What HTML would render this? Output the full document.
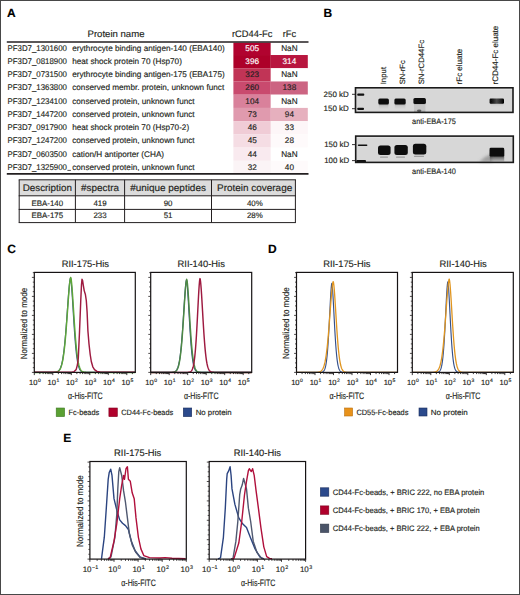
<!DOCTYPE html>
<html><head><meta charset="utf-8"><style>
html,body{margin:0;padding:0;background:#fff;}
body{width:520px;height:595px;overflow:hidden;position:relative;}
svg{position:absolute;left:0;top:0;display:block;font-family:"Liberation Sans", sans-serif;}
text{stroke:currentColor;stroke-width:0.15px;text-rendering:geometricPrecision;}
.frame{position:absolute;left:0;top:0;width:518px;height:593px;border:1px solid #484848;}
</style></head><body>
<svg width="520" height="595" viewBox="0 0 520 595">
<defs>
<linearGradient id="sm1" x1="0" y1="0" x2="0" y2="1"><stop offset="0" stop-color="#555" stop-opacity="0.7"/><stop offset="0.5" stop-color="#999" stop-opacity="0.35"/><stop offset="1" stop-color="#bbb" stop-opacity="0"/></linearGradient>
<linearGradient id="sm2" x1="0" y1="0" x2="0" y2="1"><stop offset="0" stop-color="#555" stop-opacity="0.6"/><stop offset="0.35" stop-color="#999" stop-opacity="0.3"/><stop offset="0.8" stop-color="#999" stop-opacity="0.3"/><stop offset="1" stop-color="#777" stop-opacity="0.5"/></linearGradient>
<linearGradient id="sm3" x1="0" y1="0" x2="0" y2="1"><stop offset="0" stop-color="#111" stop-opacity="1"/><stop offset="0.55" stop-color="#333" stop-opacity="0.8"/><stop offset="1" stop-color="#888" stop-opacity="0.4"/></linearGradient>
<filter id="bl3" x="-50%" y="-50%" width="200%" height="200%"><feGaussianBlur stdDeviation="1.6"/></filter>
<linearGradient id="b5g" x1="0" y1="0" x2="1" y2="0"><stop offset="0" stop-color="#000"/><stop offset="0.18" stop-color="#181818"/><stop offset="0.5" stop-color="#4a4a4a"/><stop offset="0.8" stop-color="#202020"/><stop offset="1" stop-color="#000"/></linearGradient>
<filter id="bl1" x="-50%" y="-100%" width="200%" height="300%"><feGaussianBlur stdDeviation="0.6 0.55"/></filter>
<filter id="bl2" x="-50%" y="-100%" width="200%" height="300%"><feGaussianBlur stdDeviation="0.6 0.6"/></filter>
</defs>
<rect width="520" height="595" fill="#fff"/>
<text x="6.9" y="16.7" font-size="12" font-weight="bold" fill="#000" color="#000">A</text>
<text x="323.6" y="16.9" font-size="12" font-weight="bold" fill="#000" color="#000">B</text>
<text x="7.2" y="253.3" font-size="12" font-weight="bold" fill="#000" color="#000">C</text>
<text x="268.0" y="253.0" font-size="12" font-weight="bold" fill="#000" color="#000">D</text>
<text x="63.2" y="441.5" font-size="12" font-weight="bold" fill="#000" color="#000">E</text>
<text x="116" y="37.2" font-size="9.4" text-anchor="middle" textLength="57" lengthAdjust="spacingAndGlyphs" fill="#231f20" color="#231f20">Protein name</text>
<text x="252.2" y="37.3" font-size="9.4" text-anchor="middle" textLength="40.4" lengthAdjust="spacingAndGlyphs" fill="#231f20" color="#231f20">rCD44-Fc</text>
<text x="289.4" y="37.3" font-size="9.4" text-anchor="middle" textLength="13.4" lengthAdjust="spacingAndGlyphs" fill="#231f20" color="#231f20">rFc</text>
<rect x="233.4" y="42.6" width="37.4" height="12.469999999999995" fill="#b1032f"/>
<rect x="270.8" y="42.6" width="37.0" height="12.469999999999995" fill="#ffffff"/>
<rect x="233.4" y="55.019999999999996" width="37.4" height="13.27" fill="#ad0029"/>
<rect x="270.8" y="55.019999999999996" width="37.0" height="13.27" fill="#b8163f"/>
<rect x="233.4" y="68.24" width="37.4" height="13.270000000000014" fill="#c13456"/>
<rect x="270.8" y="68.24" width="37.0" height="13.270000000000014" fill="#ffffff"/>
<rect x="233.4" y="81.46000000000001" width="37.4" height="13.27" fill="#c94a6e"/>
<rect x="270.8" y="81.46000000000001" width="37.0" height="13.27" fill="#cc6482"/>
<rect x="233.4" y="94.68" width="37.4" height="13.27" fill="#d9819b"/>
<rect x="270.8" y="94.68" width="37.0" height="13.27" fill="#ffffff"/>
<rect x="233.4" y="107.9" width="37.4" height="13.27" fill="#e09aae"/>
<rect x="270.8" y="107.9" width="37.0" height="13.27" fill="#e6b0be"/>
<rect x="233.4" y="121.12" width="37.4" height="13.27" fill="#f0ccd6"/>
<rect x="270.8" y="121.12" width="37.0" height="13.27" fill="#fdf6f8"/>
<rect x="233.4" y="134.34" width="37.4" height="13.27" fill="#f5dde4"/>
<rect x="270.8" y="134.34" width="37.0" height="13.27" fill="#fefafb"/>
<rect x="233.4" y="147.56" width="37.4" height="13.27" fill="#f9eaef"/>
<rect x="270.8" y="147.56" width="37.0" height="13.27" fill="#ffffff"/>
<rect x="233.4" y="160.78" width="37.4" height="12.869999999999994" fill="#fbf4f6"/>
<rect x="270.8" y="160.78" width="37.0" height="12.869999999999994" fill="#fefafb"/>
<text x="7.5" y="50.8" font-size="8.3" textLength="59.5" lengthAdjust="spacingAndGlyphs" fill="#231f20" color="#231f20">PF3D7_1301600</text>
<text x="72.2" y="50.8" font-size="8.2" fill="#231f20" color="#231f20">erythrocyte binding antigen-140 (EBA140)</text>
<text x="252.2" y="50.8" font-size="8.2" text-anchor="middle" fill="#ffffff" color="#ffffff">505</text>
<text x="289.4" y="50.8" font-size="8.2" text-anchor="middle" fill="#231f20" color="#231f20">NaN</text>
<text x="7.5" y="64.02" font-size="8.3" textLength="59.5" lengthAdjust="spacingAndGlyphs" fill="#231f20" color="#231f20">PF3D7_0818900</text>
<text x="72.2" y="64.02" font-size="8.2" fill="#231f20" color="#231f20">heat shock protein 70 (Hsp70)</text>
<text x="252.2" y="64.02" font-size="8.2" text-anchor="middle" fill="#ffffff" color="#ffffff">396</text>
<text x="289.4" y="64.02" font-size="8.2" text-anchor="middle" fill="#ffffff" color="#ffffff">314</text>
<text x="7.5" y="77.24" font-size="8.3" textLength="59.5" lengthAdjust="spacingAndGlyphs" fill="#231f20" color="#231f20">PF3D7_0731500</text>
<text x="72.2" y="77.24" font-size="8.2" fill="#231f20" color="#231f20">erythrocyte binding antigen-175 (EBA175)</text>
<text x="252.2" y="77.24" font-size="8.2" text-anchor="middle" fill="#231f20" color="#231f20">323</text>
<text x="289.4" y="77.24" font-size="8.2" text-anchor="middle" fill="#231f20" color="#231f20">NaN</text>
<text x="7.5" y="90.46000000000001" font-size="8.3" textLength="59.5" lengthAdjust="spacingAndGlyphs" fill="#231f20" color="#231f20">PF3D7_1363800</text>
<text x="72.2" y="90.46000000000001" font-size="8.2" fill="#231f20" color="#231f20">conserved membr. protein, unknown funct</text>
<text x="252.2" y="90.46000000000001" font-size="8.2" text-anchor="middle" fill="#231f20" color="#231f20">260</text>
<text x="289.4" y="90.46000000000001" font-size="8.2" text-anchor="middle" fill="#231f20" color="#231f20">138</text>
<text x="7.5" y="103.68" font-size="8.3" textLength="59.5" lengthAdjust="spacingAndGlyphs" fill="#231f20" color="#231f20">PF3D7_1234100</text>
<text x="72.2" y="103.68" font-size="8.2" fill="#231f20" color="#231f20">conserved protein, unknown funct</text>
<text x="252.2" y="103.68" font-size="8.2" text-anchor="middle" fill="#231f20" color="#231f20">104</text>
<text x="289.4" y="103.68" font-size="8.2" text-anchor="middle" fill="#231f20" color="#231f20">NaN</text>
<text x="7.5" y="116.9" font-size="8.3" textLength="59.5" lengthAdjust="spacingAndGlyphs" fill="#231f20" color="#231f20">PF3D7_1447200</text>
<text x="72.2" y="116.9" font-size="8.2" fill="#231f20" color="#231f20">conserved protein, unknown funct</text>
<text x="252.2" y="116.9" font-size="8.2" text-anchor="middle" fill="#231f20" color="#231f20">73</text>
<text x="289.4" y="116.9" font-size="8.2" text-anchor="middle" fill="#231f20" color="#231f20">94</text>
<text x="7.5" y="130.12" font-size="8.3" textLength="59.5" lengthAdjust="spacingAndGlyphs" fill="#231f20" color="#231f20">PF3D7_0917900</text>
<text x="72.2" y="130.12" font-size="8.2" fill="#231f20" color="#231f20">heat shock protein 70 (Hsp70-2)</text>
<text x="252.2" y="130.12" font-size="8.2" text-anchor="middle" fill="#231f20" color="#231f20">46</text>
<text x="289.4" y="130.12" font-size="8.2" text-anchor="middle" fill="#231f20" color="#231f20">33</text>
<text x="7.5" y="143.34" font-size="8.3" textLength="59.5" lengthAdjust="spacingAndGlyphs" fill="#231f20" color="#231f20">PF3D7_1247200</text>
<text x="72.2" y="143.34" font-size="8.2" fill="#231f20" color="#231f20">conserved protein, unknown funct</text>
<text x="252.2" y="143.34" font-size="8.2" text-anchor="middle" fill="#231f20" color="#231f20">45</text>
<text x="289.4" y="143.34" font-size="8.2" text-anchor="middle" fill="#231f20" color="#231f20">28</text>
<text x="7.5" y="156.56" font-size="8.3" textLength="59.5" lengthAdjust="spacingAndGlyphs" fill="#231f20" color="#231f20">PF3D7_0603500</text>
<text x="72.2" y="156.56" font-size="8.2" fill="#231f20" color="#231f20">cation/H antiporter (CHA)</text>
<text x="252.2" y="156.56" font-size="8.2" text-anchor="middle" fill="#231f20" color="#231f20">44</text>
<text x="289.4" y="156.56" font-size="8.2" text-anchor="middle" fill="#231f20" color="#231f20">NaN</text>
<text x="7.5" y="169.78" font-size="8.3" textLength="59.5" lengthAdjust="spacingAndGlyphs" fill="#231f20" color="#231f20">PF3D7_1325900</text>
<text x="72.2" y="169.78" font-size="8.2" fill="#231f20" color="#231f20">conserved protein, unknown funct</text>
<text x="252.2" y="169.78" font-size="8.2" text-anchor="middle" fill="#231f20" color="#231f20">32</text>
<text x="289.4" y="169.78" font-size="8.2" text-anchor="middle" fill="#231f20" color="#231f20">40</text>
<line x1="6.8" y1="42.0" x2="308.5" y2="42.0" stroke="#231f20" stroke-width="1.6"/>
<line x1="6.8" y1="173.9" x2="308.5" y2="173.9" stroke="#231f20" stroke-width="1.6"/>
<rect x="19.2" y="179.8" width="276.2" height="16.0" fill="#dcdcdc"/>
<line x1="19.2" y1="179.8" x2="19.2" y2="222.6" stroke="#231f20" stroke-width="1"/>
<line x1="75.4" y1="179.8" x2="75.4" y2="222.6" stroke="#231f20" stroke-width="1"/>
<line x1="124.6" y1="179.8" x2="124.6" y2="222.6" stroke="#231f20" stroke-width="1"/>
<line x1="211.5" y1="179.8" x2="211.5" y2="222.6" stroke="#231f20" stroke-width="1"/>
<line x1="295.4" y1="179.8" x2="295.4" y2="222.6" stroke="#231f20" stroke-width="1"/>
<line x1="18.7" y1="179.8" x2="295.9" y2="179.8" stroke="#231f20" stroke-width="1"/>
<line x1="18.7" y1="195.8" x2="295.9" y2="195.8" stroke="#231f20" stroke-width="1"/>
<line x1="18.7" y1="209.4" x2="295.9" y2="209.4" stroke="#231f20" stroke-width="1"/>
<line x1="18.7" y1="222.6" x2="295.9" y2="222.6" stroke="#231f20" stroke-width="1"/>
<text x="47.300000000000004" y="191.2" font-size="9.6" text-anchor="middle" textLength="49.2" lengthAdjust="spacingAndGlyphs" fill="#231f20" color="#231f20">Description</text>
<text x="100.0" y="191.2" font-size="9.6" text-anchor="middle" textLength="37.9" lengthAdjust="spacingAndGlyphs" fill="#231f20" color="#231f20">#spectra</text>
<text x="168.05" y="191.2" font-size="9.6" text-anchor="middle" textLength="75.7" lengthAdjust="spacingAndGlyphs" fill="#231f20" color="#231f20">#unique peptides</text>
<text x="254.64999999999998" y="191.2" font-size="9.6" text-anchor="middle" textLength="75.1" lengthAdjust="spacingAndGlyphs" fill="#231f20" color="#231f20">Protein coverage</text>
<text x="47.300000000000004" y="205.6" font-size="7.9" text-anchor="middle" fill="#231f20" color="#231f20">EBA-140</text>
<text x="100.0" y="205.6" font-size="7.9" text-anchor="middle" fill="#231f20" color="#231f20">419</text>
<text x="168.05" y="205.6" font-size="7.9" text-anchor="middle" fill="#231f20" color="#231f20">90</text>
<text x="254.85" y="205.6" font-size="7.9" text-anchor="middle" fill="#231f20" color="#231f20">40%</text>
<text x="47.300000000000004" y="218.0" font-size="7.9" text-anchor="middle" fill="#231f20" color="#231f20">EBA-175</text>
<text x="100.0" y="218.0" font-size="7.9" text-anchor="middle" fill="#231f20" color="#231f20">233</text>
<text x="168.05" y="218.0" font-size="7.9" text-anchor="middle" fill="#231f20" color="#231f20">51</text>
<text x="254.85" y="218.0" font-size="7.9" text-anchor="middle" fill="#231f20" color="#231f20">28%</text>
<line x1="67.4" y1="170.4" x2="70.9" y2="170.4" stroke="#231f20" stroke-width="0.8"/>
<text x="386.0" y="84.3" font-size="7.8" transform="rotate(-90 386.0 84.3)" fill="#231f20" color="#231f20">Input</text>
<text x="405.0" y="84.3" font-size="7.6" transform="rotate(-90 405.0 84.3)" fill="#231f20" color="#231f20">SN-rFc</text>
<text x="424.2" y="84.3" font-size="7.75" transform="rotate(-90 424.2 84.3)" fill="#231f20" color="#231f20">SN-rCD44Fc</text>
<text x="462.4" y="84.4" font-size="8.0" transform="rotate(-90 462.4 84.4)" fill="#231f20" color="#231f20">rFc eluate</text>
<text x="498.3" y="84.4" font-size="8.0" transform="rotate(-90 498.3 84.4)" fill="#231f20" color="#231f20">rCD44-Fc eluate</text>
<text x="348.8" y="97.3" font-size="7.8" text-anchor="end" textLength="25.2" lengthAdjust="spacingAndGlyphs" fill="#231f20" color="#231f20">250 kD</text>
<text x="348.8" y="111.1" font-size="7.8" text-anchor="end" textLength="25.2" lengthAdjust="spacingAndGlyphs" fill="#231f20" color="#231f20">150 kD</text>
<text x="349.2" y="146.8" font-size="7.8" text-anchor="end" textLength="25.0" lengthAdjust="spacingAndGlyphs" fill="#231f20" color="#231f20">150 kD</text>
<text x="349.2" y="162.5" font-size="7.8" text-anchor="end" textLength="25.0" lengthAdjust="spacingAndGlyphs" fill="#231f20" color="#231f20">100 kD</text>
<text x="412.1" y="123.8" font-size="8.0" textLength="43.8" lengthAdjust="spacingAndGlyphs" fill="#231f20" color="#231f20">anti-EBA-175</text>
<text x="412.1" y="174.1" font-size="8.0" textLength="43.8" lengthAdjust="spacingAndGlyphs" fill="#231f20" color="#231f20">anti-EBA-140</text>
<rect x="355.5" y="87.8" width="157.5" height="24.60000000000001" fill="#d7d7d7"/>
<rect x="355.5" y="87.8" width="157.5" height="2.0" fill="#e0e0e0"/>
<g filter="url(#bl1)">
<rect x="378.8" y="102" width="9.6" height="7.5" fill="url(#sm1)"/>
<rect x="394.8" y="102" width="10.6" height="7.5" fill="url(#sm1)"/>
<rect x="414.0" y="102" width="11.4" height="9.8" fill="url(#sm2)"/>
<ellipse cx="419.2" cy="110.8" rx="2.2" ry="1.3" fill="#333" opacity="0.7"/>
<rect x="490.5" y="102" width="13" height="5" fill="url(#sm1)" opacity="0.6"/>
<rect x="378.3" y="98.5" width="10.60" height="6.00" rx="1.5" fill="#111" opacity="1"/>
<rect x="394.4" y="98.5" width="11.30" height="6.00" rx="1.5" fill="#111" opacity="1"/>
<rect x="413.4" y="98.1" width="12.50" height="6.00" rx="1.5" fill="#111" opacity="1"/>
<rect x="489.6" y="98.6" width="14.40" height="5.20" rx="1.2" fill="url(#b5g)" opacity="1"/>
</g>
<rect x="357.2" y="93.5" width="7.100000000000023" height="2.2" rx="0.9" fill="#111"/>
<rect x="357.2" y="107.7" width="6.800000000000011" height="2.2" rx="0.9" fill="#111"/>
<rect x="355.5" y="87.8" width="157.5" height="24.60000000000001" fill="none" stroke="#1a1a1a" stroke-width="1.6"/>
<line x1="352.0" y1="94.3" x2="355.5" y2="94.3" stroke="#231f20" stroke-width="0.9"/>
<line x1="352.0" y1="108.7" x2="355.5" y2="108.7" stroke="#231f20" stroke-width="0.9"/>
<rect x="355.7" y="136.1" width="157.59999999999997" height="26.30000000000001" fill="#d7d7d7"/>
<rect x="355.7" y="136.1" width="157.59999999999997" height="2.0" fill="#e0e0e0"/>
<g filter="url(#bl2)">
<g filter="url(#bl3)"><path d="M479,162 L485,157 L492,153.5 L492,162 Z" fill="#666" opacity="0.5"/></g>
<rect x="489.8" y="150" width="14.4" height="11.5" fill="url(#sm3)"/>
<rect x="378.0" y="145.4" width="12.60" height="9.60" rx="2.5" fill="#0d0d0d" opacity="1"/>
<rect x="394.4" y="144.9" width="13.40" height="10.10" rx="2.5" fill="#0d0d0d" opacity="1"/>
<rect x="412.9" y="143.7" width="13.40" height="10.70" rx="2.5" fill="#0d0d0d" opacity="1"/>
<rect x="489.6" y="147.8" width="14.60" height="8.70" rx="1.2" fill="#111" opacity="1"/>
<rect x="380.0" y="156.6" width="8.00" height="1.20" rx="0.5" fill="#666" opacity="0.5"/>
<rect x="396.0" y="156.6" width="9.00" height="1.20" rx="0.5" fill="#666" opacity="0.5"/>
<rect x="414.0" y="155.8" width="10.00" height="1.20" rx="0.5" fill="#666" opacity="0.5"/>
</g>
<rect x="357.8" y="144.5" width="9.599999999999966" height="1.4" rx="0.7" fill="#111"/>
<rect x="356.2" y="160.1" width="9.800000000000011" height="2.2" rx="0.9" fill="#111"/>
<rect x="355.7" y="136.1" width="157.59999999999997" height="26.30000000000001" fill="none" stroke="#1a1a1a" stroke-width="1.6"/>
<line x1="352.0" y1="144.6" x2="355.7" y2="144.6" stroke="#231f20" stroke-width="0.9"/>
<line x1="352.0" y1="160.6" x2="355.7" y2="160.6" stroke="#231f20" stroke-width="0.9"/>
<text x="85.3" y="266.8" font-size="9.4" text-anchor="middle" textLength="47.3" lengthAdjust="spacingAndGlyphs" fill="#231f20" color="#231f20">RII-175-His</text>
<path d="M34.30,372.40 L34.64,372.40 L34.97,372.40 L35.31,372.40 L35.65,372.40 L35.98,372.40 L36.32,372.40 L36.66,372.40 L36.99,372.40 L37.33,372.40 L37.67,372.40 L38.00,372.40 L38.34,372.40 L38.68,372.40 L39.01,372.40 L39.35,372.40 L39.69,372.40 L40.02,372.40 L40.36,372.40 L40.70,372.40 L41.03,372.40 L41.37,372.40 L41.71,372.40 L42.04,372.40 L42.38,372.40 L42.72,372.40 L43.05,372.40 L43.39,372.40 L43.73,372.40 L44.06,372.40 L44.40,372.40 L44.74,372.40 L45.07,372.40 L45.41,372.40 L45.75,372.40 L46.08,372.40 L46.42,372.40 L46.76,372.40 L47.09,372.40 L47.43,372.40 L47.77,372.40 L48.10,372.40 L48.44,372.40 L48.78,372.40 L49.11,372.40 L49.45,372.40 L49.79,372.40 L50.12,372.40 L50.46,372.40 L50.80,372.39 L51.13,372.39 L51.47,372.39 L51.81,372.39 L52.14,372.38 L52.48,372.38 L52.82,372.37 L53.15,372.36 L53.49,372.35 L53.83,372.33 L54.16,372.31 L54.50,372.29 L54.84,372.26 L55.17,372.22 L55.51,372.17 L55.85,372.11 L56.18,372.04 L56.52,371.95 L56.86,371.85 L57.19,371.71 L57.53,371.55 L57.87,371.36 L58.20,371.13 L58.54,370.85 L58.88,370.52 L59.21,370.12 L59.55,369.65 L59.89,369.10 L60.22,368.45 L60.56,367.70 L60.90,366.83 L61.23,365.82 L61.57,364.66 L61.91,363.33 L62.24,361.83 L62.58,360.12 L62.92,358.21 L63.25,356.06 L63.59,353.68 L63.93,351.05 L64.26,348.16 L64.60,345.01 L64.94,341.60 L65.27,337.93 L65.61,334.01 L65.95,329.87 L66.28,325.52 L66.62,321.00 L66.96,316.35 L67.29,311.62 L67.63,306.86 L67.97,302.16 L68.30,297.58 L68.64,293.21 L68.98,289.15 L69.31,285.52 L69.65,282.42 L69.99,280.01 L70.32,278.50 L70.50,278.20 L70.66,278.53 L71.00,280.42 L71.33,283.47 L71.67,287.38 L72.01,291.94 L72.34,296.96 L72.68,302.30 L73.02,307.80 L73.35,313.34 L73.69,318.83 L74.03,324.16 L74.36,329.28 L74.70,334.13 L75.04,338.67 L75.37,342.87 L75.71,346.71 L76.05,350.20 L76.38,353.34 L76.72,356.13 L77.06,358.60 L77.39,360.77 L77.73,362.65 L78.07,364.27 L78.40,365.67 L78.74,366.86 L79.08,367.86 L79.41,368.70 L79.75,369.40 L80.09,369.99 L80.42,370.47 L80.76,370.86 L81.10,371.18 L81.43,371.44 L81.77,371.64 L82.11,371.81 L82.44,371.94 L82.78,372.05 L83.12,372.13 L83.45,372.19 L83.79,372.24 L84.13,372.28 L84.46,372.31 L84.80,372.33 L85.14,372.35 L85.47,372.36 L85.81,372.37 L86.15,372.38 L86.48,372.38 L86.82,372.39 L87.16,372.39 L87.49,372.39 L87.83,372.40 L88.17,372.40 L88.50,372.40 L88.84,372.40 L89.18,372.40 L89.51,372.40 L89.85,372.40 L90.19,372.40 L90.52,372.40 L90.86,372.40 L91.20,372.40 L91.53,372.40 L91.87,372.40 L92.21,372.40 L92.54,372.40 L92.88,372.40 L93.22,372.40 L93.55,372.40 L93.89,372.40 L94.23,372.40 L94.56,372.40 L94.90,372.40 L95.24,372.40 L95.57,372.40 L95.91,372.40 L96.25,372.40 L96.58,372.40 L96.92,372.40 L97.26,372.40 L97.59,372.40 L97.93,372.40 L98.27,372.40 L98.60,372.40 L98.94,372.40 L99.28,372.40 L99.61,372.40 L99.95,372.40 L100.29,372.40 L100.62,372.40 L100.96,372.40 L101.30,372.40 L101.63,372.40 L101.97,372.40 L102.31,372.40 L102.64,372.40 L102.98,372.40 L103.32,372.40 L103.65,372.40 L103.99,372.40 L104.33,372.40 L104.66,372.40 L105.00,372.40 L105.34,372.40 L105.67,372.40 L106.01,372.40 L106.35,372.40 L106.68,372.40 L107.02,372.40 L107.36,372.40 L107.69,372.40 L108.03,372.40 L108.37,372.40 L108.70,372.40 L109.04,372.40 L109.38,372.40 L109.71,372.40 L110.05,372.40 L110.39,372.40 L110.72,372.40 L111.06,372.40 L111.40,372.40 L111.73,372.40 L112.07,372.40 L112.41,372.40 L112.74,372.40 L113.08,372.40 L113.42,372.40 L113.75,372.40 L114.09,372.40 L114.43,372.40 L114.76,372.40 L115.10,372.40 L115.44,372.40 L115.77,372.40 L116.11,372.40 L116.45,372.40 L116.78,372.40 L117.12,372.40 L117.46,372.40 L117.79,372.40 L118.13,372.40 L118.47,372.40 L118.80,372.40 L119.14,372.40 L119.48,372.40 L119.81,372.40 L120.15,372.40 L120.49,372.40 L120.82,372.40 L121.16,372.40 L121.50,372.40 L121.83,372.40 L122.17,372.40 L122.51,372.40 L122.84,372.40 L123.18,372.40 L123.52,372.40 L123.85,372.40 L124.19,372.40 L124.53,372.40 L124.86,372.40 L125.20,372.40 L125.54,372.40 L125.87,372.40 L126.21,372.40 L126.55,372.40 L126.88,372.40 L127.22,372.40 L127.56,372.40 L127.89,372.40 L128.23,372.40 L128.57,372.40 L128.90,372.40 L129.24,372.40 L129.58,372.40 L129.91,372.40 L130.25,372.40 L130.59,372.40 L130.92,372.40 L131.26,372.40 L131.60,372.40 L131.93,372.40 L132.27,372.40 L132.61,372.40 L132.94,372.40 L133.28,372.40 L133.62,372.40 L133.95,372.40 L134.29,372.40 L134.63,372.40 L134.96,372.40 L135.30,372.40" fill="none" stroke="#2e4a86" stroke-width="1.2" stroke-linejoin="round"/>
<path d="M34.30,372.40 L34.64,372.40 L34.97,372.40 L35.31,372.40 L35.65,372.40 L35.98,372.40 L36.32,372.40 L36.66,372.40 L36.99,372.40 L37.33,372.40 L37.67,372.40 L38.00,372.40 L38.34,372.40 L38.68,372.40 L39.01,372.40 L39.35,372.40 L39.69,372.40 L40.02,372.40 L40.36,372.40 L40.70,372.40 L41.03,372.40 L41.37,372.40 L41.71,372.40 L42.04,372.40 L42.38,372.40 L42.72,372.40 L43.05,372.40 L43.39,372.40 L43.73,372.40 L44.06,372.40 L44.40,372.40 L44.74,372.40 L45.07,372.40 L45.41,372.40 L45.75,372.40 L46.08,372.40 L46.42,372.40 L46.76,372.40 L47.09,372.40 L47.43,372.40 L47.77,372.40 L48.10,372.40 L48.44,372.40 L48.78,372.40 L49.11,372.40 L49.45,372.40 L49.79,372.40 L50.12,372.40 L50.46,372.40 L50.80,372.39 L51.13,372.39 L51.47,372.39 L51.81,372.39 L52.14,372.38 L52.48,372.38 L52.82,372.37 L53.15,372.36 L53.49,372.35 L53.83,372.34 L54.16,372.32 L54.50,372.30 L54.84,372.28 L55.17,372.24 L55.51,372.20 L55.85,372.15 L56.18,372.08 L56.52,372.01 L56.86,371.91 L57.19,371.79 L57.53,371.65 L57.87,371.47 L58.20,371.26 L58.54,371.01 L58.88,370.71 L59.21,370.35 L59.55,369.92 L59.89,369.41 L60.22,368.82 L60.56,368.13 L60.90,367.32 L61.23,366.38 L61.57,365.31 L61.91,364.07 L62.24,362.66 L62.58,361.06 L62.92,359.26 L63.25,357.24 L63.59,354.98 L63.93,352.48 L64.26,349.72 L64.60,346.70 L64.94,343.41 L65.27,339.86 L65.61,336.06 L65.95,332.02 L66.28,327.75 L66.62,323.29 L66.96,318.67 L67.29,313.94 L67.63,309.15 L67.97,304.37 L68.30,299.67 L68.64,295.12 L68.98,290.83 L69.31,286.90 L69.65,283.44 L69.99,280.58 L70.32,278.49 L70.66,277.42 L70.70,277.40 L71.00,278.26 L71.33,280.48 L71.67,283.65 L72.01,287.54 L72.34,291.99 L72.68,296.83 L73.02,301.94 L73.35,307.20 L73.69,312.50 L74.03,317.75 L74.36,322.87 L74.70,327.81 L75.04,332.51 L75.37,336.93 L75.71,341.06 L76.05,344.87 L76.38,348.36 L76.72,351.53 L77.06,354.38 L77.39,356.92 L77.73,359.18 L78.07,361.18 L78.40,362.92 L78.74,364.43 L79.08,365.74 L79.41,366.86 L79.75,367.81 L80.09,368.62 L80.42,369.30 L80.76,369.87 L81.10,370.35 L81.43,370.74 L81.77,371.07 L82.11,371.34 L82.44,371.55 L82.78,371.73 L83.12,371.87 L83.45,371.98 L83.79,372.07 L84.13,372.15 L84.46,372.20 L84.80,372.25 L85.14,372.28 L85.47,372.31 L85.81,372.33 L86.15,372.35 L86.48,372.36 L86.82,372.37 L87.16,372.38 L87.49,372.38 L87.83,372.39 L88.17,372.39 L88.50,372.39 L88.84,372.40 L89.18,372.40 L89.51,372.40 L89.85,372.40 L90.19,372.40 L90.52,372.40 L90.86,372.40 L91.20,372.40 L91.53,372.40 L91.87,372.40 L92.21,372.40 L92.54,372.40 L92.88,372.40 L93.22,372.40 L93.55,372.40 L93.89,372.40 L94.23,372.40 L94.56,372.40 L94.90,372.40 L95.24,372.40 L95.57,372.40 L95.91,372.40 L96.25,372.40 L96.58,372.40 L96.92,372.40 L97.26,372.40 L97.59,372.40 L97.93,372.40 L98.27,372.40 L98.60,372.40 L98.94,372.40 L99.28,372.40 L99.61,372.40 L99.95,372.40 L100.29,372.40 L100.62,372.40 L100.96,372.40 L101.30,372.40 L101.63,372.40 L101.97,372.40 L102.31,372.40 L102.64,372.40 L102.98,372.40 L103.32,372.40 L103.65,372.40 L103.99,372.40 L104.33,372.40 L104.66,372.40 L105.00,372.40 L105.34,372.40 L105.67,372.40 L106.01,372.40 L106.35,372.40 L106.68,372.40 L107.02,372.40 L107.36,372.40 L107.69,372.40 L108.03,372.40 L108.37,372.40 L108.70,372.40 L109.04,372.40 L109.38,372.40 L109.71,372.40 L110.05,372.40 L110.39,372.40 L110.72,372.40 L111.06,372.40 L111.40,372.40 L111.73,372.40 L112.07,372.40 L112.41,372.40 L112.74,372.40 L113.08,372.40 L113.42,372.40 L113.75,372.40 L114.09,372.40 L114.43,372.40 L114.76,372.40 L115.10,372.40 L115.44,372.40 L115.77,372.40 L116.11,372.40 L116.45,372.40 L116.78,372.40 L117.12,372.40 L117.46,372.40 L117.79,372.40 L118.13,372.40 L118.47,372.40 L118.80,372.40 L119.14,372.40 L119.48,372.40 L119.81,372.40 L120.15,372.40 L120.49,372.40 L120.82,372.40 L121.16,372.40 L121.50,372.40 L121.83,372.40 L122.17,372.40 L122.51,372.40 L122.84,372.40 L123.18,372.40 L123.52,372.40 L123.85,372.40 L124.19,372.40 L124.53,372.40 L124.86,372.40 L125.20,372.40 L125.54,372.40 L125.87,372.40 L126.21,372.40 L126.55,372.40 L126.88,372.40 L127.22,372.40 L127.56,372.40 L127.89,372.40 L128.23,372.40 L128.57,372.40 L128.90,372.40 L129.24,372.40 L129.58,372.40 L129.91,372.40 L130.25,372.40 L130.59,372.40 L130.92,372.40 L131.26,372.40 L131.60,372.40 L131.93,372.40 L132.27,372.40 L132.61,372.40 L132.94,372.40 L133.28,372.40 L133.62,372.40 L133.95,372.40 L134.29,372.40 L134.63,372.40 L134.96,372.40 L135.30,372.40" fill="none" stroke="#5ea63a" stroke-width="1.45" stroke-linejoin="round"/>
<path d="M34.30,372.30 L72.00,372.20 L74.20,371.60 L76.20,369.40 L77.40,365.00 L78.30,358.00 L79.50,332.00 L80.70,302.00 L81.50,284.50 L82.00,279.20 L82.60,280.50 L83.20,284.60 L84.20,290.60 L85.40,294.50 L86.30,300.50 L87.10,312.00 L87.90,330.80 L89.00,344.00 L90.20,354.50 L91.30,361.50 L92.80,366.80 L94.50,369.60 L97.00,371.40 L100.70,372.10 L135.30,372.30" fill="none" stroke="#9e1a40" stroke-width="1.45" stroke-linejoin="round"/>
<rect x="34.3" y="272.4" width="101.00" height="100.00" fill="none" stroke="#161314" stroke-width="1.2"/>
<line x1="34.3" y1="372.4" x2="34.3" y2="375.09999999999997" stroke="#231f20" stroke-width="0.9"/>
<line x1="39.87" y1="372.4" x2="39.87" y2="374.09999999999997" stroke="#231f20" stroke-width="0.9"/>
<line x1="43.13" y1="372.4" x2="43.13" y2="374.09999999999997" stroke="#231f20" stroke-width="0.9"/>
<line x1="45.44" y1="372.4" x2="45.44" y2="374.09999999999997" stroke="#231f20" stroke-width="0.9"/>
<line x1="47.23" y1="372.4" x2="47.23" y2="374.09999999999997" stroke="#231f20" stroke-width="0.9"/>
<line x1="48.7" y1="372.4" x2="48.7" y2="374.09999999999997" stroke="#231f20" stroke-width="0.9"/>
<line x1="49.93" y1="372.4" x2="49.93" y2="374.09999999999997" stroke="#231f20" stroke-width="0.9"/>
<line x1="51.01" y1="372.4" x2="51.01" y2="374.09999999999997" stroke="#231f20" stroke-width="0.9"/>
<line x1="51.95" y1="372.4" x2="51.95" y2="374.09999999999997" stroke="#231f20" stroke-width="0.9"/>
<line x1="52.8" y1="372.4" x2="52.8" y2="375.09999999999997" stroke="#231f20" stroke-width="0.9"/>
<line x1="58.37" y1="372.4" x2="58.37" y2="374.09999999999997" stroke="#231f20" stroke-width="0.9"/>
<line x1="61.63" y1="372.4" x2="61.63" y2="374.09999999999997" stroke="#231f20" stroke-width="0.9"/>
<line x1="63.94" y1="372.4" x2="63.94" y2="374.09999999999997" stroke="#231f20" stroke-width="0.9"/>
<line x1="65.73" y1="372.4" x2="65.73" y2="374.09999999999997" stroke="#231f20" stroke-width="0.9"/>
<line x1="67.2" y1="372.4" x2="67.2" y2="374.09999999999997" stroke="#231f20" stroke-width="0.9"/>
<line x1="68.43" y1="372.4" x2="68.43" y2="374.09999999999997" stroke="#231f20" stroke-width="0.9"/>
<line x1="69.51" y1="372.4" x2="69.51" y2="374.09999999999997" stroke="#231f20" stroke-width="0.9"/>
<line x1="70.45" y1="372.4" x2="70.45" y2="374.09999999999997" stroke="#231f20" stroke-width="0.9"/>
<line x1="71.3" y1="372.4" x2="71.3" y2="375.09999999999997" stroke="#231f20" stroke-width="0.9"/>
<line x1="76.87" y1="372.4" x2="76.87" y2="374.09999999999997" stroke="#231f20" stroke-width="0.9"/>
<line x1="80.13" y1="372.4" x2="80.13" y2="374.09999999999997" stroke="#231f20" stroke-width="0.9"/>
<line x1="82.44" y1="372.4" x2="82.44" y2="374.09999999999997" stroke="#231f20" stroke-width="0.9"/>
<line x1="84.23" y1="372.4" x2="84.23" y2="374.09999999999997" stroke="#231f20" stroke-width="0.9"/>
<line x1="85.7" y1="372.4" x2="85.7" y2="374.09999999999997" stroke="#231f20" stroke-width="0.9"/>
<line x1="86.93" y1="372.4" x2="86.93" y2="374.09999999999997" stroke="#231f20" stroke-width="0.9"/>
<line x1="88.01" y1="372.4" x2="88.01" y2="374.09999999999997" stroke="#231f20" stroke-width="0.9"/>
<line x1="88.95" y1="372.4" x2="88.95" y2="374.09999999999997" stroke="#231f20" stroke-width="0.9"/>
<line x1="89.8" y1="372.4" x2="89.8" y2="375.09999999999997" stroke="#231f20" stroke-width="0.9"/>
<line x1="95.37" y1="372.4" x2="95.37" y2="374.09999999999997" stroke="#231f20" stroke-width="0.9"/>
<line x1="98.63" y1="372.4" x2="98.63" y2="374.09999999999997" stroke="#231f20" stroke-width="0.9"/>
<line x1="100.94" y1="372.4" x2="100.94" y2="374.09999999999997" stroke="#231f20" stroke-width="0.9"/>
<line x1="102.73" y1="372.4" x2="102.73" y2="374.09999999999997" stroke="#231f20" stroke-width="0.9"/>
<line x1="104.2" y1="372.4" x2="104.2" y2="374.09999999999997" stroke="#231f20" stroke-width="0.9"/>
<line x1="105.43" y1="372.4" x2="105.43" y2="374.09999999999997" stroke="#231f20" stroke-width="0.9"/>
<line x1="106.51" y1="372.4" x2="106.51" y2="374.09999999999997" stroke="#231f20" stroke-width="0.9"/>
<line x1="107.45" y1="372.4" x2="107.45" y2="374.09999999999997" stroke="#231f20" stroke-width="0.9"/>
<line x1="108.3" y1="372.4" x2="108.3" y2="375.09999999999997" stroke="#231f20" stroke-width="0.9"/>
<line x1="113.87" y1="372.4" x2="113.87" y2="374.09999999999997" stroke="#231f20" stroke-width="0.9"/>
<line x1="117.13" y1="372.4" x2="117.13" y2="374.09999999999997" stroke="#231f20" stroke-width="0.9"/>
<line x1="119.44" y1="372.4" x2="119.44" y2="374.09999999999997" stroke="#231f20" stroke-width="0.9"/>
<line x1="121.23" y1="372.4" x2="121.23" y2="374.09999999999997" stroke="#231f20" stroke-width="0.9"/>
<line x1="122.7" y1="372.4" x2="122.7" y2="374.09999999999997" stroke="#231f20" stroke-width="0.9"/>
<line x1="123.93" y1="372.4" x2="123.93" y2="374.09999999999997" stroke="#231f20" stroke-width="0.9"/>
<line x1="125.01" y1="372.4" x2="125.01" y2="374.09999999999997" stroke="#231f20" stroke-width="0.9"/>
<line x1="125.95" y1="372.4" x2="125.95" y2="374.09999999999997" stroke="#231f20" stroke-width="0.9"/>
<line x1="126.8" y1="372.4" x2="126.8" y2="375.09999999999997" stroke="#231f20" stroke-width="0.9"/>
<line x1="132.37" y1="372.4" x2="132.37" y2="374.09999999999997" stroke="#231f20" stroke-width="0.9"/>
<line x1="31.9" y1="372.4" x2="34.3" y2="372.4" stroke="#231f20" stroke-width="0.8"/>
<line x1="32.8" y1="367.65" x2="34.3" y2="367.65" stroke="#231f20" stroke-width="0.8"/>
<line x1="32.8" y1="362.9" x2="34.3" y2="362.9" stroke="#231f20" stroke-width="0.8"/>
<line x1="32.8" y1="358.15" x2="34.3" y2="358.15" stroke="#231f20" stroke-width="0.8"/>
<line x1="31.9" y1="353.4" x2="34.3" y2="353.4" stroke="#231f20" stroke-width="0.8"/>
<line x1="32.8" y1="348.65" x2="34.3" y2="348.65" stroke="#231f20" stroke-width="0.8"/>
<line x1="32.8" y1="343.9" x2="34.3" y2="343.9" stroke="#231f20" stroke-width="0.8"/>
<line x1="32.8" y1="339.15" x2="34.3" y2="339.15" stroke="#231f20" stroke-width="0.8"/>
<line x1="31.9" y1="334.4" x2="34.3" y2="334.4" stroke="#231f20" stroke-width="0.8"/>
<line x1="32.8" y1="329.65" x2="34.3" y2="329.65" stroke="#231f20" stroke-width="0.8"/>
<line x1="32.8" y1="324.9" x2="34.3" y2="324.9" stroke="#231f20" stroke-width="0.8"/>
<line x1="32.8" y1="320.15" x2="34.3" y2="320.15" stroke="#231f20" stroke-width="0.8"/>
<line x1="31.9" y1="315.4" x2="34.3" y2="315.4" stroke="#231f20" stroke-width="0.8"/>
<line x1="32.8" y1="310.65" x2="34.3" y2="310.65" stroke="#231f20" stroke-width="0.8"/>
<line x1="32.8" y1="305.9" x2="34.3" y2="305.9" stroke="#231f20" stroke-width="0.8"/>
<line x1="32.8" y1="301.15" x2="34.3" y2="301.15" stroke="#231f20" stroke-width="0.8"/>
<line x1="31.9" y1="296.4" x2="34.3" y2="296.4" stroke="#231f20" stroke-width="0.8"/>
<line x1="32.8" y1="291.65" x2="34.3" y2="291.65" stroke="#231f20" stroke-width="0.8"/>
<line x1="32.8" y1="286.9" x2="34.3" y2="286.9" stroke="#231f20" stroke-width="0.8"/>
<line x1="32.8" y1="282.15" x2="34.3" y2="282.15" stroke="#231f20" stroke-width="0.8"/>
<line x1="31.9" y1="277.4" x2="34.3" y2="277.4" stroke="#231f20" stroke-width="0.8"/>
<line x1="32.8" y1="272.65" x2="34.3" y2="272.65" stroke="#231f20" stroke-width="0.8"/>
<text x="34.80" y="385.0" font-size="7.6" text-anchor="middle" fill="#231f20" color="#231f20">10<tspan font-size="5.0" dx="0.5" dy="-3.5">0</tspan></text>
<text x="53.30" y="385.0" font-size="7.6" text-anchor="middle" fill="#231f20" color="#231f20">10<tspan font-size="5.0" dx="0.5" dy="-3.5">1</tspan></text>
<text x="71.80" y="385.0" font-size="7.6" text-anchor="middle" fill="#231f20" color="#231f20">10<tspan font-size="5.0" dx="0.5" dy="-3.5">2</tspan></text>
<text x="90.30" y="385.0" font-size="7.6" text-anchor="middle" fill="#231f20" color="#231f20">10<tspan font-size="5.0" dx="0.5" dy="-3.5">3</tspan></text>
<text x="108.80" y="385.0" font-size="7.6" text-anchor="middle" fill="#231f20" color="#231f20">10<tspan font-size="5.0" dx="0.5" dy="-3.5">4</tspan></text>
<text x="127.30" y="385.0" font-size="7.6" text-anchor="middle" fill="#231f20" color="#231f20">10<tspan font-size="5.0" dx="0.5" dy="-3.5">5</tspan></text>
<text x="85.3" y="399.0" font-size="9.3" text-anchor="middle" textLength="34.6" lengthAdjust="spacingAndGlyphs" fill="#231f20" color="#231f20">&#945;-His-FITC</text>
<text x="201.2" y="266.8" font-size="9.4" text-anchor="middle" textLength="47.3" lengthAdjust="spacingAndGlyphs" fill="#231f20" color="#231f20">RII-140-His</text>
<path d="M150.70,372.40 L151.04,372.40 L151.37,372.40 L151.71,372.40 L152.05,372.40 L152.38,372.40 L152.72,372.40 L153.06,372.40 L153.39,372.40 L153.73,372.40 L154.07,372.40 L154.40,372.40 L154.74,372.40 L155.08,372.40 L155.41,372.40 L155.75,372.40 L156.09,372.40 L156.42,372.40 L156.76,372.40 L157.10,372.40 L157.43,372.40 L157.77,372.40 L158.11,372.40 L158.44,372.40 L158.78,372.40 L159.12,372.40 L159.45,372.40 L159.79,372.40 L160.13,372.40 L160.46,372.40 L160.80,372.40 L161.14,372.40 L161.47,372.40 L161.81,372.40 L162.15,372.40 L162.48,372.40 L162.82,372.40 L163.16,372.40 L163.49,372.40 L163.83,372.40 L164.17,372.40 L164.50,372.40 L164.84,372.40 L165.18,372.40 L165.51,372.40 L165.85,372.40 L166.19,372.40 L166.52,372.40 L166.86,372.40 L167.20,372.40 L167.53,372.40 L167.87,372.40 L168.21,372.40 L168.54,372.40 L168.88,372.40 L169.22,372.39 L169.55,372.39 L169.89,372.39 L170.23,372.38 L170.56,372.38 L170.90,372.37 L171.24,372.36 L171.57,372.34 L171.91,372.33 L172.25,372.30 L172.58,372.27 L172.92,372.23 L173.26,372.18 L173.59,372.12 L173.93,372.04 L174.27,371.94 L174.60,371.81 L174.94,371.65 L175.28,371.45 L175.61,371.20 L175.95,370.89 L176.29,370.52 L176.62,370.07 L176.96,369.52 L177.30,368.87 L177.63,368.08 L177.97,367.15 L178.31,366.06 L178.64,364.77 L178.98,363.28 L179.32,361.55 L179.65,359.57 L179.99,357.31 L180.33,354.76 L180.66,351.90 L181.00,348.71 L181.34,345.19 L181.67,341.34 L182.01,337.17 L182.35,332.70 L182.68,327.95 L183.02,322.97 L183.36,317.82 L183.69,312.56 L184.03,307.27 L184.37,302.07 L184.70,297.06 L185.04,292.37 L185.38,288.16 L185.71,284.59 L186.05,281.86 L186.39,280.27 L186.50,280.10 L186.72,280.75 L187.06,283.18 L187.40,286.83 L187.73,291.36 L188.07,296.53 L188.41,302.14 L188.74,307.98 L189.08,313.91 L189.42,319.78 L189.75,325.48 L190.09,330.92 L190.43,336.04 L190.76,340.78 L191.10,345.13 L191.44,349.05 L191.77,352.57 L192.11,355.68 L192.45,358.40 L192.78,360.77 L193.12,362.80 L193.46,364.54 L193.79,366.00 L194.13,367.23 L194.47,368.25 L194.80,369.09 L195.14,369.77 L195.48,370.33 L195.81,370.78 L196.15,371.14 L196.49,371.43 L196.82,371.65 L197.16,371.83 L197.50,371.97 L197.83,372.07 L198.17,372.16 L198.51,372.22 L198.84,372.27 L199.18,372.30 L199.52,372.33 L199.85,372.35 L200.19,372.36 L200.53,372.37 L200.86,372.38 L201.20,372.39 L201.54,372.39 L201.87,372.39 L202.21,372.40 L202.55,372.40 L202.88,372.40 L203.22,372.40 L203.56,372.40 L203.89,372.40 L204.23,372.40 L204.57,372.40 L204.90,372.40 L205.24,372.40 L205.58,372.40 L205.91,372.40 L206.25,372.40 L206.59,372.40 L206.92,372.40 L207.26,372.40 L207.60,372.40 L207.93,372.40 L208.27,372.40 L208.61,372.40 L208.94,372.40 L209.28,372.40 L209.62,372.40 L209.95,372.40 L210.29,372.40 L210.63,372.40 L210.96,372.40 L211.30,372.40 L211.64,372.40 L211.97,372.40 L212.31,372.40 L212.65,372.40 L212.98,372.40 L213.32,372.40 L213.66,372.40 L213.99,372.40 L214.33,372.40 L214.67,372.40 L215.00,372.40 L215.34,372.40 L215.68,372.40 L216.01,372.40 L216.35,372.40 L216.69,372.40 L217.02,372.40 L217.36,372.40 L217.70,372.40 L218.03,372.40 L218.37,372.40 L218.71,372.40 L219.04,372.40 L219.38,372.40 L219.72,372.40 L220.05,372.40 L220.39,372.40 L220.73,372.40 L221.06,372.40 L221.40,372.40 L221.74,372.40 L222.07,372.40 L222.41,372.40 L222.75,372.40 L223.08,372.40 L223.42,372.40 L223.76,372.40 L224.09,372.40 L224.43,372.40 L224.77,372.40 L225.10,372.40 L225.44,372.40 L225.78,372.40 L226.11,372.40 L226.45,372.40 L226.79,372.40 L227.12,372.40 L227.46,372.40 L227.80,372.40 L228.13,372.40 L228.47,372.40 L228.81,372.40 L229.14,372.40 L229.48,372.40 L229.82,372.40 L230.15,372.40 L230.49,372.40 L230.83,372.40 L231.16,372.40 L231.50,372.40 L231.84,372.40 L232.17,372.40 L232.51,372.40 L232.85,372.40 L233.18,372.40 L233.52,372.40 L233.86,372.40 L234.19,372.40 L234.53,372.40 L234.87,372.40 L235.20,372.40 L235.54,372.40 L235.88,372.40 L236.21,372.40 L236.55,372.40 L236.89,372.40 L237.22,372.40 L237.56,372.40 L237.90,372.40 L238.23,372.40 L238.57,372.40 L238.91,372.40 L239.24,372.40 L239.58,372.40 L239.92,372.40 L240.25,372.40 L240.59,372.40 L240.93,372.40 L241.26,372.40 L241.60,372.40 L241.94,372.40 L242.27,372.40 L242.61,372.40 L242.95,372.40 L243.28,372.40 L243.62,372.40 L243.96,372.40 L244.29,372.40 L244.63,372.40 L244.97,372.40 L245.30,372.40 L245.64,372.40 L245.98,372.40 L246.31,372.40 L246.65,372.40 L246.99,372.40 L247.32,372.40 L247.66,372.40 L248.00,372.40 L248.33,372.40 L248.67,372.40 L249.01,372.40 L249.34,372.40 L249.68,372.40 L250.02,372.40 L250.35,372.40 L250.69,372.40 L251.03,372.40 L251.36,372.40 L251.70,372.40" fill="none" stroke="#2e4a86" stroke-width="1.2" stroke-linejoin="round"/>
<path d="M150.70,372.40 L151.04,372.40 L151.37,372.40 L151.71,372.40 L152.05,372.40 L152.38,372.40 L152.72,372.40 L153.06,372.40 L153.39,372.40 L153.73,372.40 L154.07,372.40 L154.40,372.40 L154.74,372.40 L155.08,372.40 L155.41,372.40 L155.75,372.40 L156.09,372.40 L156.42,372.40 L156.76,372.40 L157.10,372.40 L157.43,372.40 L157.77,372.40 L158.11,372.40 L158.44,372.40 L158.78,372.40 L159.12,372.40 L159.45,372.40 L159.79,372.40 L160.13,372.40 L160.46,372.40 L160.80,372.40 L161.14,372.40 L161.47,372.40 L161.81,372.40 L162.15,372.40 L162.48,372.40 L162.82,372.40 L163.16,372.40 L163.49,372.40 L163.83,372.40 L164.17,372.40 L164.50,372.40 L164.84,372.40 L165.18,372.40 L165.51,372.40 L165.85,372.40 L166.19,372.40 L166.52,372.40 L166.86,372.40 L167.20,372.40 L167.53,372.40 L167.87,372.40 L168.21,372.40 L168.54,372.40 L168.88,372.40 L169.22,372.39 L169.55,372.39 L169.89,372.39 L170.23,372.39 L170.56,372.38 L170.90,372.37 L171.24,372.36 L171.57,372.35 L171.91,372.34 L172.25,372.32 L172.58,372.29 L172.92,372.26 L173.26,372.21 L173.59,372.16 L173.93,372.09 L174.27,372.00 L174.60,371.88 L174.94,371.74 L175.28,371.56 L175.61,371.34 L175.95,371.07 L176.29,370.74 L176.62,370.33 L176.96,369.84 L177.30,369.24 L177.63,368.53 L177.97,367.68 L178.31,366.68 L178.64,365.50 L178.98,364.12 L179.32,362.52 L179.65,360.68 L179.99,358.57 L180.33,356.17 L180.66,353.47 L181.00,350.45 L181.34,347.10 L181.67,343.42 L182.01,339.40 L182.35,335.07 L182.68,330.44 L183.02,325.55 L183.36,320.45 L183.69,315.20 L184.03,309.87 L184.37,304.56 L184.70,299.38 L185.04,294.44 L185.38,289.89 L185.71,285.88 L186.05,282.60 L186.39,280.27 L186.70,279.30 L186.72,279.31 L187.06,280.64 L187.40,283.36 L187.73,287.07 L188.07,291.52 L188.41,296.51 L188.74,301.87 L189.08,307.43 L189.42,313.07 L189.75,318.66 L190.09,324.11 L190.43,329.34 L190.76,334.29 L191.10,338.92 L191.44,343.20 L191.77,347.10 L192.11,350.63 L192.45,353.80 L192.78,356.61 L193.12,359.08 L193.46,361.23 L193.79,363.10 L194.13,364.70 L194.47,366.06 L194.80,367.22 L195.14,368.19 L195.48,368.99 L195.81,369.66 L196.15,370.21 L196.49,370.66 L196.82,371.03 L197.16,371.32 L197.50,371.56 L197.83,371.74 L198.17,371.89 L198.51,372.01 L198.84,372.10 L199.18,372.17 L199.52,372.23 L199.85,372.27 L200.19,372.30 L200.53,372.33 L200.86,372.35 L201.20,372.36 L201.54,372.37 L201.87,372.38 L202.21,372.38 L202.55,372.39 L202.88,372.39 L203.22,372.39 L203.56,372.40 L203.89,372.40 L204.23,372.40 L204.57,372.40 L204.90,372.40 L205.24,372.40 L205.58,372.40 L205.91,372.40 L206.25,372.40 L206.59,372.40 L206.92,372.40 L207.26,372.40 L207.60,372.40 L207.93,372.40 L208.27,372.40 L208.61,372.40 L208.94,372.40 L209.28,372.40 L209.62,372.40 L209.95,372.40 L210.29,372.40 L210.63,372.40 L210.96,372.40 L211.30,372.40 L211.64,372.40 L211.97,372.40 L212.31,372.40 L212.65,372.40 L212.98,372.40 L213.32,372.40 L213.66,372.40 L213.99,372.40 L214.33,372.40 L214.67,372.40 L215.00,372.40 L215.34,372.40 L215.68,372.40 L216.01,372.40 L216.35,372.40 L216.69,372.40 L217.02,372.40 L217.36,372.40 L217.70,372.40 L218.03,372.40 L218.37,372.40 L218.71,372.40 L219.04,372.40 L219.38,372.40 L219.72,372.40 L220.05,372.40 L220.39,372.40 L220.73,372.40 L221.06,372.40 L221.40,372.40 L221.74,372.40 L222.07,372.40 L222.41,372.40 L222.75,372.40 L223.08,372.40 L223.42,372.40 L223.76,372.40 L224.09,372.40 L224.43,372.40 L224.77,372.40 L225.10,372.40 L225.44,372.40 L225.78,372.40 L226.11,372.40 L226.45,372.40 L226.79,372.40 L227.12,372.40 L227.46,372.40 L227.80,372.40 L228.13,372.40 L228.47,372.40 L228.81,372.40 L229.14,372.40 L229.48,372.40 L229.82,372.40 L230.15,372.40 L230.49,372.40 L230.83,372.40 L231.16,372.40 L231.50,372.40 L231.84,372.40 L232.17,372.40 L232.51,372.40 L232.85,372.40 L233.18,372.40 L233.52,372.40 L233.86,372.40 L234.19,372.40 L234.53,372.40 L234.87,372.40 L235.20,372.40 L235.54,372.40 L235.88,372.40 L236.21,372.40 L236.55,372.40 L236.89,372.40 L237.22,372.40 L237.56,372.40 L237.90,372.40 L238.23,372.40 L238.57,372.40 L238.91,372.40 L239.24,372.40 L239.58,372.40 L239.92,372.40 L240.25,372.40 L240.59,372.40 L240.93,372.40 L241.26,372.40 L241.60,372.40 L241.94,372.40 L242.27,372.40 L242.61,372.40 L242.95,372.40 L243.28,372.40 L243.62,372.40 L243.96,372.40 L244.29,372.40 L244.63,372.40 L244.97,372.40 L245.30,372.40 L245.64,372.40 L245.98,372.40 L246.31,372.40 L246.65,372.40 L246.99,372.40 L247.32,372.40 L247.66,372.40 L248.00,372.40 L248.33,372.40 L248.67,372.40 L249.01,372.40 L249.34,372.40 L249.68,372.40 L250.02,372.40 L250.35,372.40 L250.69,372.40 L251.03,372.40 L251.36,372.40 L251.70,372.40" fill="none" stroke="#4e8a44" stroke-width="1.45" stroke-linejoin="round"/>
<path d="M150.70,372.40 L151.04,372.40 L151.37,372.40 L151.71,372.40 L152.05,372.40 L152.38,372.40 L152.72,372.40 L153.06,372.40 L153.39,372.40 L153.73,372.40 L154.07,372.40 L154.40,372.40 L154.74,372.40 L155.08,372.40 L155.41,372.40 L155.75,372.40 L156.09,372.40 L156.42,372.40 L156.76,372.40 L157.10,372.40 L157.43,372.40 L157.77,372.40 L158.11,372.40 L158.44,372.40 L158.78,372.40 L159.12,372.40 L159.45,372.40 L159.79,372.40 L160.13,372.40 L160.46,372.40 L160.80,372.40 L161.14,372.40 L161.47,372.40 L161.81,372.40 L162.15,372.40 L162.48,372.40 L162.82,372.40 L163.16,372.40 L163.49,372.40 L163.83,372.40 L164.17,372.40 L164.50,372.40 L164.84,372.40 L165.18,372.40 L165.51,372.40 L165.85,372.40 L166.19,372.40 L166.52,372.40 L166.86,372.40 L167.20,372.40 L167.53,372.40 L167.87,372.40 L168.21,372.40 L168.54,372.40 L168.88,372.40 L169.22,372.40 L169.55,372.40 L169.89,372.40 L170.23,372.40 L170.56,372.40 L170.90,372.40 L171.24,372.40 L171.57,372.40 L171.91,372.40 L172.25,372.40 L172.58,372.40 L172.92,372.40 L173.26,372.40 L173.59,372.40 L173.93,372.40 L174.27,372.40 L174.60,372.40 L174.94,372.40 L175.28,372.40 L175.61,372.40 L175.95,372.40 L176.29,372.40 L176.62,372.40 L176.96,372.40 L177.30,372.40 L177.63,372.40 L177.97,372.40 L178.31,372.40 L178.64,372.40 L178.98,372.40 L179.32,372.40 L179.65,372.40 L179.99,372.40 L180.33,372.40 L180.66,372.40 L181.00,372.40 L181.34,372.40 L181.67,372.40 L182.01,372.40 L182.35,372.40 L182.68,372.40 L183.02,372.40 L183.36,372.40 L183.69,372.40 L184.03,372.40 L184.37,372.40 L184.70,372.40 L185.04,372.40 L185.38,372.40 L185.71,372.40 L186.05,372.39 L186.39,372.39 L186.72,372.38 L187.06,372.38 L187.40,372.37 L187.73,372.35 L188.07,372.33 L188.41,372.31 L188.74,372.27 L189.08,372.22 L189.42,372.15 L189.75,372.05 L190.09,371.92 L190.43,371.76 L190.76,371.54 L191.10,371.25 L191.44,370.88 L191.77,370.41 L192.11,369.80 L192.45,369.05 L192.78,368.10 L193.12,366.93 L193.46,365.50 L193.79,363.77 L194.13,361.69 L194.47,359.22 L194.80,356.32 L195.14,352.96 L195.48,349.11 L195.81,344.75 L196.15,339.88 L196.49,334.52 L196.82,328.71 L197.16,322.52 L197.50,316.05 L197.83,309.44 L198.17,302.85 L198.51,296.50 L198.84,290.62 L199.18,285.50 L199.52,281.47 L199.85,278.98 L200.00,278.60 L200.19,279.08 L200.53,281.29 L200.86,284.72 L201.20,289.04 L201.54,294.03 L201.87,299.47 L202.21,305.18 L202.55,311.02 L202.88,316.84 L203.22,322.54 L203.56,328.02 L203.89,333.21 L204.23,338.06 L204.57,342.54 L204.90,346.62 L205.24,350.31 L205.58,353.60 L205.91,356.52 L206.25,359.07 L206.59,361.29 L206.92,363.20 L207.26,364.83 L207.60,366.21 L207.93,367.38 L208.27,368.34 L208.61,369.15 L208.94,369.81 L209.28,370.34 L209.62,370.78 L209.95,371.13 L210.29,371.41 L210.63,371.64 L210.96,371.81 L211.30,371.95 L211.64,372.06 L211.97,372.14 L212.31,372.21 L212.65,372.25 L212.98,372.29 L213.32,372.32 L213.66,372.34 L213.99,372.36 L214.33,372.37 L214.67,372.38 L215.00,372.38 L215.34,372.39 L215.68,372.39 L216.01,372.39 L216.35,372.40 L216.69,372.40 L217.02,372.40 L217.36,372.40 L217.70,372.40 L218.03,372.40 L218.37,372.40 L218.71,372.40 L219.04,372.40 L219.38,372.40 L219.72,372.40 L220.05,372.40 L220.39,372.40 L220.73,372.40 L221.06,372.40 L221.40,372.40 L221.74,372.40 L222.07,372.40 L222.41,372.40 L222.75,372.40 L223.08,372.40 L223.42,372.40 L223.76,372.40 L224.09,372.40 L224.43,372.40 L224.77,372.40 L225.10,372.40 L225.44,372.40 L225.78,372.40 L226.11,372.40 L226.45,372.40 L226.79,372.40 L227.12,372.40 L227.46,372.40 L227.80,372.40 L228.13,372.40 L228.47,372.40 L228.81,372.40 L229.14,372.40 L229.48,372.40 L229.82,372.40 L230.15,372.40 L230.49,372.40 L230.83,372.40 L231.16,372.40 L231.50,372.40 L231.84,372.40 L232.17,372.40 L232.51,372.40 L232.85,372.40 L233.18,372.40 L233.52,372.40 L233.86,372.40 L234.19,372.40 L234.53,372.40 L234.87,372.40 L235.20,372.40 L235.54,372.40 L235.88,372.40 L236.21,372.40 L236.55,372.40 L236.89,372.40 L237.22,372.40 L237.56,372.40 L237.90,372.40 L238.23,372.40 L238.57,372.40 L238.91,372.40 L239.24,372.40 L239.58,372.40 L239.92,372.40 L240.25,372.40 L240.59,372.40 L240.93,372.40 L241.26,372.40 L241.60,372.40 L241.94,372.40 L242.27,372.40 L242.61,372.40 L242.95,372.40 L243.28,372.40 L243.62,372.40 L243.96,372.40 L244.29,372.40 L244.63,372.40 L244.97,372.40 L245.30,372.40 L245.64,372.40 L245.98,372.40 L246.31,372.40 L246.65,372.40 L246.99,372.40 L247.32,372.40 L247.66,372.40 L248.00,372.40 L248.33,372.40 L248.67,372.40 L249.01,372.40 L249.34,372.40 L249.68,372.40 L250.02,372.40 L250.35,372.40 L250.69,372.40 L251.03,372.40 L251.36,372.40 L251.70,372.40" fill="none" stroke="#9e1a40" stroke-width="1.45" stroke-linejoin="round"/>
<rect x="150.7" y="272.4" width="101.00" height="100.00" fill="none" stroke="#161314" stroke-width="1.2"/>
<line x1="150.7" y1="372.4" x2="150.7" y2="375.09999999999997" stroke="#231f20" stroke-width="0.9"/>
<line x1="156.27" y1="372.4" x2="156.27" y2="374.09999999999997" stroke="#231f20" stroke-width="0.9"/>
<line x1="159.53" y1="372.4" x2="159.53" y2="374.09999999999997" stroke="#231f20" stroke-width="0.9"/>
<line x1="161.84" y1="372.4" x2="161.84" y2="374.09999999999997" stroke="#231f20" stroke-width="0.9"/>
<line x1="163.63" y1="372.4" x2="163.63" y2="374.09999999999997" stroke="#231f20" stroke-width="0.9"/>
<line x1="165.1" y1="372.4" x2="165.1" y2="374.09999999999997" stroke="#231f20" stroke-width="0.9"/>
<line x1="166.33" y1="372.4" x2="166.33" y2="374.09999999999997" stroke="#231f20" stroke-width="0.9"/>
<line x1="167.41" y1="372.4" x2="167.41" y2="374.09999999999997" stroke="#231f20" stroke-width="0.9"/>
<line x1="168.35" y1="372.4" x2="168.35" y2="374.09999999999997" stroke="#231f20" stroke-width="0.9"/>
<line x1="169.2" y1="372.4" x2="169.2" y2="375.09999999999997" stroke="#231f20" stroke-width="0.9"/>
<line x1="174.77" y1="372.4" x2="174.77" y2="374.09999999999997" stroke="#231f20" stroke-width="0.9"/>
<line x1="178.03" y1="372.4" x2="178.03" y2="374.09999999999997" stroke="#231f20" stroke-width="0.9"/>
<line x1="180.34" y1="372.4" x2="180.34" y2="374.09999999999997" stroke="#231f20" stroke-width="0.9"/>
<line x1="182.13" y1="372.4" x2="182.13" y2="374.09999999999997" stroke="#231f20" stroke-width="0.9"/>
<line x1="183.6" y1="372.4" x2="183.6" y2="374.09999999999997" stroke="#231f20" stroke-width="0.9"/>
<line x1="184.83" y1="372.4" x2="184.83" y2="374.09999999999997" stroke="#231f20" stroke-width="0.9"/>
<line x1="185.91" y1="372.4" x2="185.91" y2="374.09999999999997" stroke="#231f20" stroke-width="0.9"/>
<line x1="186.85" y1="372.4" x2="186.85" y2="374.09999999999997" stroke="#231f20" stroke-width="0.9"/>
<line x1="187.7" y1="372.4" x2="187.7" y2="375.09999999999997" stroke="#231f20" stroke-width="0.9"/>
<line x1="193.27" y1="372.4" x2="193.27" y2="374.09999999999997" stroke="#231f20" stroke-width="0.9"/>
<line x1="196.53" y1="372.4" x2="196.53" y2="374.09999999999997" stroke="#231f20" stroke-width="0.9"/>
<line x1="198.84" y1="372.4" x2="198.84" y2="374.09999999999997" stroke="#231f20" stroke-width="0.9"/>
<line x1="200.63" y1="372.4" x2="200.63" y2="374.09999999999997" stroke="#231f20" stroke-width="0.9"/>
<line x1="202.1" y1="372.4" x2="202.1" y2="374.09999999999997" stroke="#231f20" stroke-width="0.9"/>
<line x1="203.33" y1="372.4" x2="203.33" y2="374.09999999999997" stroke="#231f20" stroke-width="0.9"/>
<line x1="204.41" y1="372.4" x2="204.41" y2="374.09999999999997" stroke="#231f20" stroke-width="0.9"/>
<line x1="205.35" y1="372.4" x2="205.35" y2="374.09999999999997" stroke="#231f20" stroke-width="0.9"/>
<line x1="206.2" y1="372.4" x2="206.2" y2="375.09999999999997" stroke="#231f20" stroke-width="0.9"/>
<line x1="211.77" y1="372.4" x2="211.77" y2="374.09999999999997" stroke="#231f20" stroke-width="0.9"/>
<line x1="215.03" y1="372.4" x2="215.03" y2="374.09999999999997" stroke="#231f20" stroke-width="0.9"/>
<line x1="217.34" y1="372.4" x2="217.34" y2="374.09999999999997" stroke="#231f20" stroke-width="0.9"/>
<line x1="219.13" y1="372.4" x2="219.13" y2="374.09999999999997" stroke="#231f20" stroke-width="0.9"/>
<line x1="220.6" y1="372.4" x2="220.6" y2="374.09999999999997" stroke="#231f20" stroke-width="0.9"/>
<line x1="221.83" y1="372.4" x2="221.83" y2="374.09999999999997" stroke="#231f20" stroke-width="0.9"/>
<line x1="222.91" y1="372.4" x2="222.91" y2="374.09999999999997" stroke="#231f20" stroke-width="0.9"/>
<line x1="223.85" y1="372.4" x2="223.85" y2="374.09999999999997" stroke="#231f20" stroke-width="0.9"/>
<line x1="224.7" y1="372.4" x2="224.7" y2="375.09999999999997" stroke="#231f20" stroke-width="0.9"/>
<line x1="230.27" y1="372.4" x2="230.27" y2="374.09999999999997" stroke="#231f20" stroke-width="0.9"/>
<line x1="233.53" y1="372.4" x2="233.53" y2="374.09999999999997" stroke="#231f20" stroke-width="0.9"/>
<line x1="235.84" y1="372.4" x2="235.84" y2="374.09999999999997" stroke="#231f20" stroke-width="0.9"/>
<line x1="237.63" y1="372.4" x2="237.63" y2="374.09999999999997" stroke="#231f20" stroke-width="0.9"/>
<line x1="239.1" y1="372.4" x2="239.1" y2="374.09999999999997" stroke="#231f20" stroke-width="0.9"/>
<line x1="240.33" y1="372.4" x2="240.33" y2="374.09999999999997" stroke="#231f20" stroke-width="0.9"/>
<line x1="241.41" y1="372.4" x2="241.41" y2="374.09999999999997" stroke="#231f20" stroke-width="0.9"/>
<line x1="242.35" y1="372.4" x2="242.35" y2="374.09999999999997" stroke="#231f20" stroke-width="0.9"/>
<line x1="243.2" y1="372.4" x2="243.2" y2="375.09999999999997" stroke="#231f20" stroke-width="0.9"/>
<line x1="248.77" y1="372.4" x2="248.77" y2="374.09999999999997" stroke="#231f20" stroke-width="0.9"/>
<line x1="148.29999999999998" y1="372.4" x2="150.7" y2="372.4" stroke="#231f20" stroke-width="0.8"/>
<line x1="149.2" y1="367.65" x2="150.7" y2="367.65" stroke="#231f20" stroke-width="0.8"/>
<line x1="149.2" y1="362.9" x2="150.7" y2="362.9" stroke="#231f20" stroke-width="0.8"/>
<line x1="149.2" y1="358.15" x2="150.7" y2="358.15" stroke="#231f20" stroke-width="0.8"/>
<line x1="148.29999999999998" y1="353.4" x2="150.7" y2="353.4" stroke="#231f20" stroke-width="0.8"/>
<line x1="149.2" y1="348.65" x2="150.7" y2="348.65" stroke="#231f20" stroke-width="0.8"/>
<line x1="149.2" y1="343.9" x2="150.7" y2="343.9" stroke="#231f20" stroke-width="0.8"/>
<line x1="149.2" y1="339.15" x2="150.7" y2="339.15" stroke="#231f20" stroke-width="0.8"/>
<line x1="148.29999999999998" y1="334.4" x2="150.7" y2="334.4" stroke="#231f20" stroke-width="0.8"/>
<line x1="149.2" y1="329.65" x2="150.7" y2="329.65" stroke="#231f20" stroke-width="0.8"/>
<line x1="149.2" y1="324.9" x2="150.7" y2="324.9" stroke="#231f20" stroke-width="0.8"/>
<line x1="149.2" y1="320.15" x2="150.7" y2="320.15" stroke="#231f20" stroke-width="0.8"/>
<line x1="148.29999999999998" y1="315.4" x2="150.7" y2="315.4" stroke="#231f20" stroke-width="0.8"/>
<line x1="149.2" y1="310.65" x2="150.7" y2="310.65" stroke="#231f20" stroke-width="0.8"/>
<line x1="149.2" y1="305.9" x2="150.7" y2="305.9" stroke="#231f20" stroke-width="0.8"/>
<line x1="149.2" y1="301.15" x2="150.7" y2="301.15" stroke="#231f20" stroke-width="0.8"/>
<line x1="148.29999999999998" y1="296.4" x2="150.7" y2="296.4" stroke="#231f20" stroke-width="0.8"/>
<line x1="149.2" y1="291.65" x2="150.7" y2="291.65" stroke="#231f20" stroke-width="0.8"/>
<line x1="149.2" y1="286.9" x2="150.7" y2="286.9" stroke="#231f20" stroke-width="0.8"/>
<line x1="149.2" y1="282.15" x2="150.7" y2="282.15" stroke="#231f20" stroke-width="0.8"/>
<line x1="148.29999999999998" y1="277.4" x2="150.7" y2="277.4" stroke="#231f20" stroke-width="0.8"/>
<line x1="149.2" y1="272.65" x2="150.7" y2="272.65" stroke="#231f20" stroke-width="0.8"/>
<text x="151.20" y="385.0" font-size="7.6" text-anchor="middle" fill="#231f20" color="#231f20">10<tspan font-size="5.0" dx="0.5" dy="-3.5">0</tspan></text>
<text x="169.70" y="385.0" font-size="7.6" text-anchor="middle" fill="#231f20" color="#231f20">10<tspan font-size="5.0" dx="0.5" dy="-3.5">1</tspan></text>
<text x="188.20" y="385.0" font-size="7.6" text-anchor="middle" fill="#231f20" color="#231f20">10<tspan font-size="5.0" dx="0.5" dy="-3.5">2</tspan></text>
<text x="206.70" y="385.0" font-size="7.6" text-anchor="middle" fill="#231f20" color="#231f20">10<tspan font-size="5.0" dx="0.5" dy="-3.5">3</tspan></text>
<text x="225.20" y="385.0" font-size="7.6" text-anchor="middle" fill="#231f20" color="#231f20">10<tspan font-size="5.0" dx="0.5" dy="-3.5">4</tspan></text>
<text x="243.70" y="385.0" font-size="7.6" text-anchor="middle" fill="#231f20" color="#231f20">10<tspan font-size="5.0" dx="0.5" dy="-3.5">5</tspan></text>
<text x="201.2" y="399.0" font-size="9.3" text-anchor="middle" textLength="34.6" lengthAdjust="spacingAndGlyphs" fill="#231f20" color="#231f20">&#945;-His-FITC</text>
<text x="26.9" y="323.6" font-size="9.0" text-anchor="middle" textLength="71.4" lengthAdjust="spacingAndGlyphs" transform="rotate(-90 26.9 323.6)" fill="#231f20" color="#231f20">Normalized to mode</text>
<rect x="56.199999999999996" y="408.0" width="8.4" height="8.6" fill="#5aa032" stroke="#3f7a25" stroke-width="0.6"/>
<text x="68.6" y="414.5" font-size="7.7" textLength="30.6" lengthAdjust="spacingAndGlyphs" fill="#231f20" color="#231f20">Fc-beads</text>
<rect x="108.89999999999999" y="408.0" width="8.4" height="8.6" fill="#b0002c" stroke="#80001f" stroke-width="0.6"/>
<text x="121.3" y="414.5" font-size="7.7" textLength="51.9" lengthAdjust="spacingAndGlyphs" fill="#231f20" color="#231f20">CD44-Fc-beads</text>
<rect x="183.3" y="408.0" width="8.4" height="8.6" fill="#2b4a8c" stroke="#1a2d5c" stroke-width="0.6"/>
<text x="195.7" y="414.5" font-size="7.7" textLength="36.0" lengthAdjust="spacingAndGlyphs" fill="#231f20" color="#231f20">No protein</text>
<text x="346.8" y="266.8" font-size="9.4" text-anchor="middle" textLength="47.3" lengthAdjust="spacingAndGlyphs" fill="#231f20" color="#231f20">RII-175-His</text>
<path d="M296.50,372.40 L296.84,372.40 L297.17,372.40 L297.51,372.40 L297.85,372.40 L298.18,372.40 L298.52,372.40 L298.86,372.40 L299.19,372.40 L299.53,372.40 L299.87,372.40 L300.20,372.40 L300.54,372.40 L300.88,372.40 L301.21,372.40 L301.55,372.40 L301.89,372.40 L302.22,372.40 L302.56,372.40 L302.90,372.40 L303.23,372.40 L303.57,372.40 L303.91,372.40 L304.24,372.40 L304.58,372.40 L304.92,372.40 L305.25,372.40 L305.59,372.40 L305.93,372.40 L306.26,372.40 L306.60,372.40 L306.94,372.40 L307.27,372.40 L307.61,372.40 L307.95,372.40 L308.28,372.40 L308.62,372.40 L308.96,372.40 L309.29,372.40 L309.63,372.40 L309.97,372.40 L310.30,372.40 L310.64,372.40 L310.98,372.40 L311.31,372.40 L311.65,372.40 L311.99,372.40 L312.32,372.40 L312.66,372.40 L313.00,372.40 L313.33,372.40 L313.67,372.40 L314.01,372.40 L314.34,372.40 L314.68,372.40 L315.02,372.40 L315.35,372.40 L315.69,372.40 L316.03,372.40 L316.36,372.40 L316.70,372.40 L317.04,372.40 L317.37,372.40 L317.71,372.40 L318.05,372.40 L318.38,372.40 L318.72,372.39 L319.06,372.39 L319.39,372.39 L319.73,372.38 L320.07,372.37 L320.40,372.35 L320.74,372.33 L321.08,372.30 L321.41,372.26 L321.75,372.20 L322.09,372.11 L322.42,372.00 L322.76,371.85 L323.10,371.64 L323.43,371.37 L323.77,371.01 L324.11,370.53 L324.44,369.92 L324.78,369.14 L325.12,368.15 L325.45,366.91 L325.79,365.38 L326.13,363.50 L326.46,361.23 L326.80,358.51 L327.14,355.30 L327.47,351.58 L327.81,347.30 L328.15,342.46 L328.48,337.09 L328.82,331.22 L329.16,324.93 L329.49,318.34 L329.83,311.61 L330.17,304.95 L330.50,298.60 L330.84,292.86 L331.18,288.07 L331.51,284.67 L331.80,283.40 L331.85,283.46 L332.19,285.38 L332.52,289.03 L332.86,293.88 L333.20,299.55 L333.53,305.74 L333.87,312.19 L334.21,318.68 L334.54,325.03 L334.88,331.10 L335.22,336.79 L335.55,342.01 L335.89,346.74 L336.23,350.94 L336.56,354.63 L336.90,357.83 L337.24,360.56 L337.57,362.87 L337.91,364.80 L338.25,366.39 L338.58,367.69 L338.92,368.74 L339.26,369.58 L339.59,370.25 L339.93,370.77 L340.27,371.17 L340.60,371.49 L340.94,371.72 L341.28,371.90 L341.61,372.04 L341.95,372.14 L342.29,372.21 L342.62,372.27 L342.96,372.31 L343.30,372.33 L343.63,372.35 L343.97,372.37 L344.31,372.38 L344.64,372.39 L344.98,372.39 L345.32,372.39 L345.65,372.40 L345.99,372.40 L346.33,372.40 L346.66,372.40 L347.00,372.40 L347.34,372.40 L347.67,372.40 L348.01,372.40 L348.35,372.40 L348.68,372.40 L349.02,372.40 L349.36,372.40 L349.69,372.40 L350.03,372.40 L350.37,372.40 L350.70,372.40 L351.04,372.40 L351.38,372.40 L351.71,372.40 L352.05,372.40 L352.39,372.40 L352.72,372.40 L353.06,372.40 L353.40,372.40 L353.73,372.40 L354.07,372.40 L354.41,372.40 L354.74,372.40 L355.08,372.40 L355.42,372.40 L355.75,372.40 L356.09,372.40 L356.43,372.40 L356.76,372.40 L357.10,372.40 L357.44,372.40 L357.77,372.40 L358.11,372.40 L358.45,372.40 L358.78,372.40 L359.12,372.40 L359.46,372.40 L359.79,372.40 L360.13,372.40 L360.47,372.40 L360.80,372.40 L361.14,372.40 L361.48,372.40 L361.81,372.40 L362.15,372.40 L362.49,372.40 L362.82,372.40 L363.16,372.40 L363.50,372.40 L363.83,372.40 L364.17,372.40 L364.51,372.40 L364.84,372.40 L365.18,372.40 L365.52,372.40 L365.85,372.40 L366.19,372.40 L366.53,372.40 L366.86,372.40 L367.20,372.40 L367.54,372.40 L367.87,372.40 L368.21,372.40 L368.55,372.40 L368.88,372.40 L369.22,372.40 L369.56,372.40 L369.89,372.40 L370.23,372.40 L370.57,372.40 L370.90,372.40 L371.24,372.40 L371.58,372.40 L371.91,372.40 L372.25,372.40 L372.59,372.40 L372.92,372.40 L373.26,372.40 L373.60,372.40 L373.93,372.40 L374.27,372.40 L374.61,372.40 L374.94,372.40 L375.28,372.40 L375.62,372.40 L375.95,372.40 L376.29,372.40 L376.63,372.40 L376.96,372.40 L377.30,372.40 L377.64,372.40 L377.97,372.40 L378.31,372.40 L378.65,372.40 L378.98,372.40 L379.32,372.40 L379.66,372.40 L379.99,372.40 L380.33,372.40 L380.67,372.40 L381.00,372.40 L381.34,372.40 L381.68,372.40 L382.01,372.40 L382.35,372.40 L382.69,372.40 L383.02,372.40 L383.36,372.40 L383.70,372.40 L384.03,372.40 L384.37,372.40 L384.71,372.40 L385.04,372.40 L385.38,372.40 L385.72,372.40 L386.05,372.40 L386.39,372.40 L386.73,372.40 L387.06,372.40 L387.40,372.40 L387.74,372.40 L388.07,372.40 L388.41,372.40 L388.75,372.40 L389.08,372.40 L389.42,372.40 L389.76,372.40 L390.09,372.40 L390.43,372.40 L390.77,372.40 L391.10,372.40 L391.44,372.40 L391.78,372.40 L392.11,372.40 L392.45,372.40 L392.79,372.40 L393.12,372.40 L393.46,372.40 L393.80,372.40 L394.13,372.40 L394.47,372.40 L394.81,372.40 L395.14,372.40 L395.48,372.40 L395.82,372.40 L396.15,372.40 L396.49,372.40 L396.83,372.40 L397.16,372.40 L397.50,372.40" fill="none" stroke="#34508c" stroke-width="1.15" stroke-linejoin="round"/>
<path d="M296.50,372.40 L296.84,372.40 L297.17,372.40 L297.51,372.40 L297.85,372.40 L298.18,372.40 L298.52,372.40 L298.86,372.40 L299.19,372.40 L299.53,372.40 L299.87,372.40 L300.20,372.40 L300.54,372.40 L300.88,372.40 L301.21,372.40 L301.55,372.40 L301.89,372.40 L302.22,372.40 L302.56,372.40 L302.90,372.40 L303.23,372.40 L303.57,372.40 L303.91,372.40 L304.24,372.40 L304.58,372.40 L304.92,372.40 L305.25,372.40 L305.59,372.40 L305.93,372.40 L306.26,372.40 L306.60,372.40 L306.94,372.40 L307.27,372.40 L307.61,372.40 L307.95,372.40 L308.28,372.40 L308.62,372.40 L308.96,372.40 L309.29,372.40 L309.63,372.40 L309.97,372.40 L310.30,372.40 L310.64,372.40 L310.98,372.40 L311.31,372.40 L311.65,372.40 L311.99,372.40 L312.32,372.40 L312.66,372.40 L313.00,372.40 L313.33,372.39 L313.67,372.39 L314.01,372.39 L314.34,372.39 L314.68,372.38 L315.02,372.38 L315.35,372.37 L315.69,372.36 L316.03,372.35 L316.36,372.34 L316.70,372.32 L317.04,372.30 L317.37,372.28 L317.71,372.25 L318.05,372.20 L318.38,372.15 L318.72,372.09 L319.06,372.01 L319.39,371.92 L319.73,371.80 L320.07,371.66 L320.40,371.49 L320.74,371.29 L321.08,371.04 L321.41,370.75 L321.75,370.40 L322.09,369.98 L322.42,369.49 L322.76,368.91 L323.10,368.24 L323.43,367.45 L323.77,366.55 L324.11,365.50 L324.44,364.30 L324.78,362.94 L325.12,361.39 L325.45,359.64 L325.79,357.68 L326.13,355.50 L326.46,353.08 L326.80,350.42 L327.14,347.50 L327.47,344.34 L327.81,340.92 L328.15,337.26 L328.48,333.37 L328.82,329.27 L329.16,324.99 L329.49,320.56 L329.83,316.03 L330.17,311.45 L330.50,306.88 L330.84,302.40 L331.18,298.08 L331.51,294.01 L331.85,290.30 L332.19,287.04 L332.52,284.38 L332.86,282.47 L333.20,281.60 L333.20,281.60 L333.53,282.75 L333.87,285.31 L334.21,288.86 L334.54,293.15 L334.88,297.99 L335.22,303.19 L335.55,308.61 L335.89,314.10 L336.23,319.56 L336.56,324.89 L336.90,330.01 L337.24,334.86 L337.57,339.40 L337.91,343.60 L338.25,347.44 L338.58,350.91 L338.92,354.02 L339.26,356.79 L339.59,359.23 L339.93,361.35 L340.27,363.19 L340.60,364.77 L340.94,366.12 L341.28,367.26 L341.61,368.22 L341.95,369.02 L342.29,369.68 L342.62,370.23 L342.96,370.67 L343.30,371.04 L343.63,371.33 L343.97,371.56 L344.31,371.75 L344.64,371.90 L344.98,372.01 L345.32,372.10 L345.65,372.17 L345.99,372.23 L346.33,372.27 L346.66,372.30 L347.00,372.33 L347.34,372.35 L347.67,372.36 L348.01,372.37 L348.35,372.38 L348.68,372.38 L349.02,372.39 L349.36,372.39 L349.69,372.39 L350.03,372.40 L350.37,372.40 L350.70,372.40 L351.04,372.40 L351.38,372.40 L351.71,372.40 L352.05,372.40 L352.39,372.40 L352.72,372.40 L353.06,372.40 L353.40,372.40 L353.73,372.40 L354.07,372.40 L354.41,372.40 L354.74,372.40 L355.08,372.40 L355.42,372.40 L355.75,372.40 L356.09,372.40 L356.43,372.40 L356.76,372.40 L357.10,372.40 L357.44,372.40 L357.77,372.40 L358.11,372.40 L358.45,372.40 L358.78,372.40 L359.12,372.40 L359.46,372.40 L359.79,372.40 L360.13,372.40 L360.47,372.40 L360.80,372.40 L361.14,372.40 L361.48,372.40 L361.81,372.40 L362.15,372.40 L362.49,372.40 L362.82,372.40 L363.16,372.40 L363.50,372.40 L363.83,372.40 L364.17,372.40 L364.51,372.40 L364.84,372.40 L365.18,372.40 L365.52,372.40 L365.85,372.40 L366.19,372.40 L366.53,372.40 L366.86,372.40 L367.20,372.40 L367.54,372.40 L367.87,372.40 L368.21,372.40 L368.55,372.40 L368.88,372.40 L369.22,372.40 L369.56,372.40 L369.89,372.40 L370.23,372.40 L370.57,372.40 L370.90,372.40 L371.24,372.40 L371.58,372.40 L371.91,372.40 L372.25,372.40 L372.59,372.40 L372.92,372.40 L373.26,372.40 L373.60,372.40 L373.93,372.40 L374.27,372.40 L374.61,372.40 L374.94,372.40 L375.28,372.40 L375.62,372.40 L375.95,372.40 L376.29,372.40 L376.63,372.40 L376.96,372.40 L377.30,372.40 L377.64,372.40 L377.97,372.40 L378.31,372.40 L378.65,372.40 L378.98,372.40 L379.32,372.40 L379.66,372.40 L379.99,372.40 L380.33,372.40 L380.67,372.40 L381.00,372.40 L381.34,372.40 L381.68,372.40 L382.01,372.40 L382.35,372.40 L382.69,372.40 L383.02,372.40 L383.36,372.40 L383.70,372.40 L384.03,372.40 L384.37,372.40 L384.71,372.40 L385.04,372.40 L385.38,372.40 L385.72,372.40 L386.05,372.40 L386.39,372.40 L386.73,372.40 L387.06,372.40 L387.40,372.40 L387.74,372.40 L388.07,372.40 L388.41,372.40 L388.75,372.40 L389.08,372.40 L389.42,372.40 L389.76,372.40 L390.09,372.40 L390.43,372.40 L390.77,372.40 L391.10,372.40 L391.44,372.40 L391.78,372.40 L392.11,372.40 L392.45,372.40 L392.79,372.40 L393.12,372.40 L393.46,372.40 L393.80,372.40 L394.13,372.40 L394.47,372.40 L394.81,372.40 L395.14,372.40 L395.48,372.40 L395.82,372.40 L396.15,372.40 L396.49,372.40 L396.83,372.40 L397.16,372.40 L397.50,372.40" fill="none" stroke="#e0951f" stroke-width="1.3" stroke-linejoin="round"/>
<rect x="296.5" y="272.4" width="101.00" height="100.00" fill="none" stroke="#161314" stroke-width="1.2"/>
<line x1="296.5" y1="372.4" x2="296.5" y2="375.09999999999997" stroke="#231f20" stroke-width="0.9"/>
<line x1="302.07" y1="372.4" x2="302.07" y2="374.09999999999997" stroke="#231f20" stroke-width="0.9"/>
<line x1="305.33" y1="372.4" x2="305.33" y2="374.09999999999997" stroke="#231f20" stroke-width="0.9"/>
<line x1="307.64" y1="372.4" x2="307.64" y2="374.09999999999997" stroke="#231f20" stroke-width="0.9"/>
<line x1="309.43" y1="372.4" x2="309.43" y2="374.09999999999997" stroke="#231f20" stroke-width="0.9"/>
<line x1="310.9" y1="372.4" x2="310.9" y2="374.09999999999997" stroke="#231f20" stroke-width="0.9"/>
<line x1="312.13" y1="372.4" x2="312.13" y2="374.09999999999997" stroke="#231f20" stroke-width="0.9"/>
<line x1="313.21" y1="372.4" x2="313.21" y2="374.09999999999997" stroke="#231f20" stroke-width="0.9"/>
<line x1="314.15" y1="372.4" x2="314.15" y2="374.09999999999997" stroke="#231f20" stroke-width="0.9"/>
<line x1="315.0" y1="372.4" x2="315.0" y2="375.09999999999997" stroke="#231f20" stroke-width="0.9"/>
<line x1="320.57" y1="372.4" x2="320.57" y2="374.09999999999997" stroke="#231f20" stroke-width="0.9"/>
<line x1="323.83" y1="372.4" x2="323.83" y2="374.09999999999997" stroke="#231f20" stroke-width="0.9"/>
<line x1="326.14" y1="372.4" x2="326.14" y2="374.09999999999997" stroke="#231f20" stroke-width="0.9"/>
<line x1="327.93" y1="372.4" x2="327.93" y2="374.09999999999997" stroke="#231f20" stroke-width="0.9"/>
<line x1="329.4" y1="372.4" x2="329.4" y2="374.09999999999997" stroke="#231f20" stroke-width="0.9"/>
<line x1="330.63" y1="372.4" x2="330.63" y2="374.09999999999997" stroke="#231f20" stroke-width="0.9"/>
<line x1="331.71" y1="372.4" x2="331.71" y2="374.09999999999997" stroke="#231f20" stroke-width="0.9"/>
<line x1="332.65" y1="372.4" x2="332.65" y2="374.09999999999997" stroke="#231f20" stroke-width="0.9"/>
<line x1="333.5" y1="372.4" x2="333.5" y2="375.09999999999997" stroke="#231f20" stroke-width="0.9"/>
<line x1="339.07" y1="372.4" x2="339.07" y2="374.09999999999997" stroke="#231f20" stroke-width="0.9"/>
<line x1="342.33" y1="372.4" x2="342.33" y2="374.09999999999997" stroke="#231f20" stroke-width="0.9"/>
<line x1="344.64" y1="372.4" x2="344.64" y2="374.09999999999997" stroke="#231f20" stroke-width="0.9"/>
<line x1="346.43" y1="372.4" x2="346.43" y2="374.09999999999997" stroke="#231f20" stroke-width="0.9"/>
<line x1="347.9" y1="372.4" x2="347.9" y2="374.09999999999997" stroke="#231f20" stroke-width="0.9"/>
<line x1="349.13" y1="372.4" x2="349.13" y2="374.09999999999997" stroke="#231f20" stroke-width="0.9"/>
<line x1="350.21" y1="372.4" x2="350.21" y2="374.09999999999997" stroke="#231f20" stroke-width="0.9"/>
<line x1="351.15" y1="372.4" x2="351.15" y2="374.09999999999997" stroke="#231f20" stroke-width="0.9"/>
<line x1="352.0" y1="372.4" x2="352.0" y2="375.09999999999997" stroke="#231f20" stroke-width="0.9"/>
<line x1="357.57" y1="372.4" x2="357.57" y2="374.09999999999997" stroke="#231f20" stroke-width="0.9"/>
<line x1="360.83" y1="372.4" x2="360.83" y2="374.09999999999997" stroke="#231f20" stroke-width="0.9"/>
<line x1="363.14" y1="372.4" x2="363.14" y2="374.09999999999997" stroke="#231f20" stroke-width="0.9"/>
<line x1="364.93" y1="372.4" x2="364.93" y2="374.09999999999997" stroke="#231f20" stroke-width="0.9"/>
<line x1="366.4" y1="372.4" x2="366.4" y2="374.09999999999997" stroke="#231f20" stroke-width="0.9"/>
<line x1="367.63" y1="372.4" x2="367.63" y2="374.09999999999997" stroke="#231f20" stroke-width="0.9"/>
<line x1="368.71" y1="372.4" x2="368.71" y2="374.09999999999997" stroke="#231f20" stroke-width="0.9"/>
<line x1="369.65" y1="372.4" x2="369.65" y2="374.09999999999997" stroke="#231f20" stroke-width="0.9"/>
<line x1="370.5" y1="372.4" x2="370.5" y2="375.09999999999997" stroke="#231f20" stroke-width="0.9"/>
<line x1="376.07" y1="372.4" x2="376.07" y2="374.09999999999997" stroke="#231f20" stroke-width="0.9"/>
<line x1="379.33" y1="372.4" x2="379.33" y2="374.09999999999997" stroke="#231f20" stroke-width="0.9"/>
<line x1="381.64" y1="372.4" x2="381.64" y2="374.09999999999997" stroke="#231f20" stroke-width="0.9"/>
<line x1="383.43" y1="372.4" x2="383.43" y2="374.09999999999997" stroke="#231f20" stroke-width="0.9"/>
<line x1="384.9" y1="372.4" x2="384.9" y2="374.09999999999997" stroke="#231f20" stroke-width="0.9"/>
<line x1="386.13" y1="372.4" x2="386.13" y2="374.09999999999997" stroke="#231f20" stroke-width="0.9"/>
<line x1="387.21" y1="372.4" x2="387.21" y2="374.09999999999997" stroke="#231f20" stroke-width="0.9"/>
<line x1="388.15" y1="372.4" x2="388.15" y2="374.09999999999997" stroke="#231f20" stroke-width="0.9"/>
<line x1="389.0" y1="372.4" x2="389.0" y2="375.09999999999997" stroke="#231f20" stroke-width="0.9"/>
<line x1="394.57" y1="372.4" x2="394.57" y2="374.09999999999997" stroke="#231f20" stroke-width="0.9"/>
<line x1="294.1" y1="372.4" x2="296.5" y2="372.4" stroke="#231f20" stroke-width="0.8"/>
<line x1="295.0" y1="367.65" x2="296.5" y2="367.65" stroke="#231f20" stroke-width="0.8"/>
<line x1="295.0" y1="362.9" x2="296.5" y2="362.9" stroke="#231f20" stroke-width="0.8"/>
<line x1="295.0" y1="358.15" x2="296.5" y2="358.15" stroke="#231f20" stroke-width="0.8"/>
<line x1="294.1" y1="353.4" x2="296.5" y2="353.4" stroke="#231f20" stroke-width="0.8"/>
<line x1="295.0" y1="348.65" x2="296.5" y2="348.65" stroke="#231f20" stroke-width="0.8"/>
<line x1="295.0" y1="343.9" x2="296.5" y2="343.9" stroke="#231f20" stroke-width="0.8"/>
<line x1="295.0" y1="339.15" x2="296.5" y2="339.15" stroke="#231f20" stroke-width="0.8"/>
<line x1="294.1" y1="334.4" x2="296.5" y2="334.4" stroke="#231f20" stroke-width="0.8"/>
<line x1="295.0" y1="329.65" x2="296.5" y2="329.65" stroke="#231f20" stroke-width="0.8"/>
<line x1="295.0" y1="324.9" x2="296.5" y2="324.9" stroke="#231f20" stroke-width="0.8"/>
<line x1="295.0" y1="320.15" x2="296.5" y2="320.15" stroke="#231f20" stroke-width="0.8"/>
<line x1="294.1" y1="315.4" x2="296.5" y2="315.4" stroke="#231f20" stroke-width="0.8"/>
<line x1="295.0" y1="310.65" x2="296.5" y2="310.65" stroke="#231f20" stroke-width="0.8"/>
<line x1="295.0" y1="305.9" x2="296.5" y2="305.9" stroke="#231f20" stroke-width="0.8"/>
<line x1="295.0" y1="301.15" x2="296.5" y2="301.15" stroke="#231f20" stroke-width="0.8"/>
<line x1="294.1" y1="296.4" x2="296.5" y2="296.4" stroke="#231f20" stroke-width="0.8"/>
<line x1="295.0" y1="291.65" x2="296.5" y2="291.65" stroke="#231f20" stroke-width="0.8"/>
<line x1="295.0" y1="286.9" x2="296.5" y2="286.9" stroke="#231f20" stroke-width="0.8"/>
<line x1="295.0" y1="282.15" x2="296.5" y2="282.15" stroke="#231f20" stroke-width="0.8"/>
<line x1="294.1" y1="277.4" x2="296.5" y2="277.4" stroke="#231f20" stroke-width="0.8"/>
<line x1="295.0" y1="272.65" x2="296.5" y2="272.65" stroke="#231f20" stroke-width="0.8"/>
<text x="297.00" y="385.0" font-size="7.6" text-anchor="middle" fill="#231f20" color="#231f20">10<tspan font-size="5.0" dx="0.5" dy="-3.5">0</tspan></text>
<text x="315.50" y="385.0" font-size="7.6" text-anchor="middle" fill="#231f20" color="#231f20">10<tspan font-size="5.0" dx="0.5" dy="-3.5">1</tspan></text>
<text x="334.00" y="385.0" font-size="7.6" text-anchor="middle" fill="#231f20" color="#231f20">10<tspan font-size="5.0" dx="0.5" dy="-3.5">2</tspan></text>
<text x="352.50" y="385.0" font-size="7.6" text-anchor="middle" fill="#231f20" color="#231f20">10<tspan font-size="5.0" dx="0.5" dy="-3.5">3</tspan></text>
<text x="371.00" y="385.0" font-size="7.6" text-anchor="middle" fill="#231f20" color="#231f20">10<tspan font-size="5.0" dx="0.5" dy="-3.5">4</tspan></text>
<text x="389.50" y="385.0" font-size="7.6" text-anchor="middle" fill="#231f20" color="#231f20">10<tspan font-size="5.0" dx="0.5" dy="-3.5">5</tspan></text>
<text x="346.8" y="399.0" font-size="9.3" text-anchor="middle" textLength="34.6" lengthAdjust="spacingAndGlyphs" fill="#231f20" color="#231f20">&#945;-His-FITC</text>
<text x="463.1" y="266.8" font-size="9.4" text-anchor="middle" textLength="47.3" lengthAdjust="spacingAndGlyphs" fill="#231f20" color="#231f20">RII-140-His</text>
<path d="M412.30,372.40 L412.64,372.40 L412.97,372.40 L413.31,372.40 L413.65,372.40 L413.98,372.40 L414.32,372.40 L414.66,372.40 L414.99,372.40 L415.33,372.40 L415.67,372.40 L416.00,372.40 L416.34,372.40 L416.68,372.40 L417.01,372.40 L417.35,372.40 L417.69,372.40 L418.02,372.40 L418.36,372.40 L418.70,372.40 L419.03,372.40 L419.37,372.40 L419.71,372.40 L420.04,372.40 L420.38,372.40 L420.72,372.40 L421.05,372.40 L421.39,372.40 L421.73,372.40 L422.06,372.40 L422.40,372.40 L422.74,372.40 L423.07,372.40 L423.41,372.40 L423.75,372.40 L424.08,372.40 L424.42,372.40 L424.76,372.40 L425.09,372.40 L425.43,372.40 L425.77,372.40 L426.10,372.40 L426.44,372.40 L426.78,372.40 L427.11,372.40 L427.45,372.40 L427.79,372.40 L428.12,372.40 L428.46,372.40 L428.80,372.40 L429.13,372.40 L429.47,372.40 L429.81,372.40 L430.14,372.40 L430.48,372.40 L430.82,372.40 L431.15,372.40 L431.49,372.40 L431.83,372.40 L432.16,372.40 L432.50,372.40 L432.84,372.40 L433.17,372.40 L433.51,372.40 L433.85,372.40 L434.18,372.40 L434.52,372.39 L434.86,372.39 L435.19,372.39 L435.53,372.38 L435.87,372.37 L436.20,372.36 L436.54,372.34 L436.88,372.32 L437.21,372.28 L437.55,372.23 L437.89,372.16 L438.22,372.07 L438.56,371.94 L438.90,371.76 L439.23,371.53 L439.57,371.21 L439.91,370.80 L440.24,370.27 L440.58,369.58 L440.92,368.70 L441.25,367.60 L441.59,366.22 L441.93,364.53 L442.26,362.46 L442.60,359.97 L442.94,357.01 L443.27,353.54 L443.61,349.53 L443.95,344.95 L444.28,339.80 L444.62,334.13 L444.96,327.97 L445.29,321.44 L445.63,314.66 L445.97,307.82 L446.30,301.14 L446.64,294.89 L446.98,289.40 L447.31,285.05 L447.65,282.33 L447.80,281.90 L447.99,282.49 L448.32,285.25 L448.66,289.51 L449.00,294.81 L449.33,300.82 L449.67,307.26 L450.01,313.86 L450.34,320.42 L450.68,326.78 L451.02,332.81 L451.35,338.40 L451.69,343.51 L452.03,348.10 L452.36,352.17 L452.70,355.71 L453.04,358.77 L453.37,361.37 L453.71,363.55 L454.05,365.37 L454.38,366.86 L454.72,368.07 L455.06,369.05 L455.39,369.83 L455.73,370.44 L456.07,370.92 L456.40,371.29 L456.74,371.58 L457.08,371.79 L457.41,371.96 L457.75,372.08 L458.09,372.17 L458.42,372.23 L458.76,372.28 L459.10,372.32 L459.43,372.34 L459.77,372.36 L460.11,372.37 L460.44,372.38 L460.78,372.39 L461.12,372.39 L461.45,372.39 L461.79,372.40 L462.13,372.40 L462.46,372.40 L462.80,372.40 L463.14,372.40 L463.47,372.40 L463.81,372.40 L464.15,372.40 L464.48,372.40 L464.82,372.40 L465.16,372.40 L465.49,372.40 L465.83,372.40 L466.17,372.40 L466.50,372.40 L466.84,372.40 L467.18,372.40 L467.51,372.40 L467.85,372.40 L468.19,372.40 L468.52,372.40 L468.86,372.40 L469.20,372.40 L469.53,372.40 L469.87,372.40 L470.21,372.40 L470.54,372.40 L470.88,372.40 L471.22,372.40 L471.55,372.40 L471.89,372.40 L472.23,372.40 L472.56,372.40 L472.90,372.40 L473.24,372.40 L473.57,372.40 L473.91,372.40 L474.25,372.40 L474.58,372.40 L474.92,372.40 L475.26,372.40 L475.59,372.40 L475.93,372.40 L476.27,372.40 L476.60,372.40 L476.94,372.40 L477.28,372.40 L477.61,372.40 L477.95,372.40 L478.29,372.40 L478.62,372.40 L478.96,372.40 L479.30,372.40 L479.63,372.40 L479.97,372.40 L480.31,372.40 L480.64,372.40 L480.98,372.40 L481.32,372.40 L481.65,372.40 L481.99,372.40 L482.33,372.40 L482.66,372.40 L483.00,372.40 L483.34,372.40 L483.67,372.40 L484.01,372.40 L484.35,372.40 L484.68,372.40 L485.02,372.40 L485.36,372.40 L485.69,372.40 L486.03,372.40 L486.37,372.40 L486.70,372.40 L487.04,372.40 L487.38,372.40 L487.71,372.40 L488.05,372.40 L488.39,372.40 L488.72,372.40 L489.06,372.40 L489.40,372.40 L489.73,372.40 L490.07,372.40 L490.41,372.40 L490.74,372.40 L491.08,372.40 L491.42,372.40 L491.75,372.40 L492.09,372.40 L492.43,372.40 L492.76,372.40 L493.10,372.40 L493.44,372.40 L493.77,372.40 L494.11,372.40 L494.45,372.40 L494.78,372.40 L495.12,372.40 L495.46,372.40 L495.79,372.40 L496.13,372.40 L496.47,372.40 L496.80,372.40 L497.14,372.40 L497.48,372.40 L497.81,372.40 L498.15,372.40 L498.49,372.40 L498.82,372.40 L499.16,372.40 L499.50,372.40 L499.83,372.40 L500.17,372.40 L500.51,372.40 L500.84,372.40 L501.18,372.40 L501.52,372.40 L501.85,372.40 L502.19,372.40 L502.53,372.40 L502.86,372.40 L503.20,372.40 L503.54,372.40 L503.87,372.40 L504.21,372.40 L504.55,372.40 L504.88,372.40 L505.22,372.40 L505.56,372.40 L505.89,372.40 L506.23,372.40 L506.57,372.40 L506.90,372.40 L507.24,372.40 L507.58,372.40 L507.91,372.40 L508.25,372.40 L508.59,372.40 L508.92,372.40 L509.26,372.40 L509.60,372.40 L509.93,372.40 L510.27,372.40 L510.61,372.40 L510.94,372.40 L511.28,372.40 L511.62,372.40 L511.95,372.40 L512.29,372.40 L512.63,372.40 L512.96,372.40 L513.30,372.40" fill="none" stroke="#34508c" stroke-width="1.15" stroke-linejoin="round"/>
<path d="M412.30,372.40 L412.64,372.40 L412.97,372.40 L413.31,372.40 L413.65,372.40 L413.98,372.40 L414.32,372.40 L414.66,372.40 L414.99,372.40 L415.33,372.40 L415.67,372.40 L416.00,372.40 L416.34,372.40 L416.68,372.40 L417.01,372.40 L417.35,372.40 L417.69,372.40 L418.02,372.40 L418.36,372.40 L418.70,372.40 L419.03,372.40 L419.37,372.40 L419.71,372.40 L420.04,372.40 L420.38,372.40 L420.72,372.40 L421.05,372.40 L421.39,372.40 L421.73,372.40 L422.06,372.40 L422.40,372.40 L422.74,372.40 L423.07,372.40 L423.41,372.40 L423.75,372.40 L424.08,372.40 L424.42,372.40 L424.76,372.40 L425.09,372.40 L425.43,372.40 L425.77,372.40 L426.10,372.40 L426.44,372.40 L426.78,372.40 L427.11,372.40 L427.45,372.40 L427.79,372.40 L428.12,372.40 L428.46,372.40 L428.80,372.40 L429.13,372.40 L429.47,372.39 L429.81,372.39 L430.14,372.39 L430.48,372.39 L430.82,372.38 L431.15,372.38 L431.49,372.37 L431.83,372.36 L432.16,372.35 L432.50,372.33 L432.84,372.31 L433.17,372.29 L433.51,372.26 L433.85,372.22 L434.18,372.18 L434.52,372.12 L434.86,372.05 L435.19,371.97 L435.53,371.86 L435.87,371.73 L436.20,371.58 L436.54,371.39 L436.88,371.16 L437.21,370.89 L437.55,370.56 L437.89,370.17 L438.22,369.72 L438.56,369.18 L438.90,368.55 L439.23,367.81 L439.57,366.95 L439.91,365.97 L440.24,364.83 L440.58,363.53 L440.92,362.05 L441.25,360.38 L441.59,358.50 L441.93,356.40 L442.26,354.06 L442.60,351.47 L442.94,348.63 L443.27,345.53 L443.61,342.17 L443.95,338.55 L444.28,334.70 L444.62,330.61 L444.96,326.32 L445.29,321.85 L445.63,317.25 L445.97,312.57 L446.30,307.86 L446.64,303.20 L446.98,298.65 L447.31,294.30 L447.65,290.25 L447.99,286.61 L448.32,283.50 L448.66,281.06 L449.00,279.48 L449.20,279.10 L449.33,279.35 L449.67,281.21 L450.01,284.29 L450.34,288.27 L450.68,292.93 L451.02,298.07 L451.35,303.53 L451.69,309.14 L452.03,314.78 L452.36,320.35 L452.70,325.75 L453.04,330.91 L453.37,335.77 L453.71,340.29 L454.05,344.45 L454.38,348.24 L454.72,351.66 L455.06,354.71 L455.39,357.42 L455.73,359.79 L456.07,361.85 L456.40,363.63 L456.74,365.15 L457.08,366.45 L457.41,367.54 L457.75,368.46 L458.09,369.22 L458.42,369.85 L458.76,370.37 L459.10,370.79 L459.43,371.13 L459.77,371.40 L460.11,371.62 L460.44,371.80 L460.78,371.93 L461.12,372.04 L461.45,372.13 L461.79,372.19 L462.13,372.24 L462.46,372.28 L462.80,372.31 L463.14,372.33 L463.47,372.35 L463.81,372.36 L464.15,372.37 L464.48,372.38 L464.82,372.39 L465.16,372.39 L465.49,372.39 L465.83,372.39 L466.17,372.40 L466.50,372.40 L466.84,372.40 L467.18,372.40 L467.51,372.40 L467.85,372.40 L468.19,372.40 L468.52,372.40 L468.86,372.40 L469.20,372.40 L469.53,372.40 L469.87,372.40 L470.21,372.40 L470.54,372.40 L470.88,372.40 L471.22,372.40 L471.55,372.40 L471.89,372.40 L472.23,372.40 L472.56,372.40 L472.90,372.40 L473.24,372.40 L473.57,372.40 L473.91,372.40 L474.25,372.40 L474.58,372.40 L474.92,372.40 L475.26,372.40 L475.59,372.40 L475.93,372.40 L476.27,372.40 L476.60,372.40 L476.94,372.40 L477.28,372.40 L477.61,372.40 L477.95,372.40 L478.29,372.40 L478.62,372.40 L478.96,372.40 L479.30,372.40 L479.63,372.40 L479.97,372.40 L480.31,372.40 L480.64,372.40 L480.98,372.40 L481.32,372.40 L481.65,372.40 L481.99,372.40 L482.33,372.40 L482.66,372.40 L483.00,372.40 L483.34,372.40 L483.67,372.40 L484.01,372.40 L484.35,372.40 L484.68,372.40 L485.02,372.40 L485.36,372.40 L485.69,372.40 L486.03,372.40 L486.37,372.40 L486.70,372.40 L487.04,372.40 L487.38,372.40 L487.71,372.40 L488.05,372.40 L488.39,372.40 L488.72,372.40 L489.06,372.40 L489.40,372.40 L489.73,372.40 L490.07,372.40 L490.41,372.40 L490.74,372.40 L491.08,372.40 L491.42,372.40 L491.75,372.40 L492.09,372.40 L492.43,372.40 L492.76,372.40 L493.10,372.40 L493.44,372.40 L493.77,372.40 L494.11,372.40 L494.45,372.40 L494.78,372.40 L495.12,372.40 L495.46,372.40 L495.79,372.40 L496.13,372.40 L496.47,372.40 L496.80,372.40 L497.14,372.40 L497.48,372.40 L497.81,372.40 L498.15,372.40 L498.49,372.40 L498.82,372.40 L499.16,372.40 L499.50,372.40 L499.83,372.40 L500.17,372.40 L500.51,372.40 L500.84,372.40 L501.18,372.40 L501.52,372.40 L501.85,372.40 L502.19,372.40 L502.53,372.40 L502.86,372.40 L503.20,372.40 L503.54,372.40 L503.87,372.40 L504.21,372.40 L504.55,372.40 L504.88,372.40 L505.22,372.40 L505.56,372.40 L505.89,372.40 L506.23,372.40 L506.57,372.40 L506.90,372.40 L507.24,372.40 L507.58,372.40 L507.91,372.40 L508.25,372.40 L508.59,372.40 L508.92,372.40 L509.26,372.40 L509.60,372.40 L509.93,372.40 L510.27,372.40 L510.61,372.40 L510.94,372.40 L511.28,372.40 L511.62,372.40 L511.95,372.40 L512.29,372.40 L512.63,372.40 L512.96,372.40 L513.30,372.40" fill="none" stroke="#e0951f" stroke-width="1.3" stroke-linejoin="round"/>
<rect x="412.3" y="272.4" width="101.00" height="100.00" fill="none" stroke="#161314" stroke-width="1.2"/>
<line x1="412.3" y1="372.4" x2="412.3" y2="375.09999999999997" stroke="#231f20" stroke-width="0.9"/>
<line x1="417.87" y1="372.4" x2="417.87" y2="374.09999999999997" stroke="#231f20" stroke-width="0.9"/>
<line x1="421.13" y1="372.4" x2="421.13" y2="374.09999999999997" stroke="#231f20" stroke-width="0.9"/>
<line x1="423.44" y1="372.4" x2="423.44" y2="374.09999999999997" stroke="#231f20" stroke-width="0.9"/>
<line x1="425.23" y1="372.4" x2="425.23" y2="374.09999999999997" stroke="#231f20" stroke-width="0.9"/>
<line x1="426.7" y1="372.4" x2="426.7" y2="374.09999999999997" stroke="#231f20" stroke-width="0.9"/>
<line x1="427.93" y1="372.4" x2="427.93" y2="374.09999999999997" stroke="#231f20" stroke-width="0.9"/>
<line x1="429.01" y1="372.4" x2="429.01" y2="374.09999999999997" stroke="#231f20" stroke-width="0.9"/>
<line x1="429.95" y1="372.4" x2="429.95" y2="374.09999999999997" stroke="#231f20" stroke-width="0.9"/>
<line x1="430.8" y1="372.4" x2="430.8" y2="375.09999999999997" stroke="#231f20" stroke-width="0.9"/>
<line x1="436.37" y1="372.4" x2="436.37" y2="374.09999999999997" stroke="#231f20" stroke-width="0.9"/>
<line x1="439.63" y1="372.4" x2="439.63" y2="374.09999999999997" stroke="#231f20" stroke-width="0.9"/>
<line x1="441.94" y1="372.4" x2="441.94" y2="374.09999999999997" stroke="#231f20" stroke-width="0.9"/>
<line x1="443.73" y1="372.4" x2="443.73" y2="374.09999999999997" stroke="#231f20" stroke-width="0.9"/>
<line x1="445.2" y1="372.4" x2="445.2" y2="374.09999999999997" stroke="#231f20" stroke-width="0.9"/>
<line x1="446.43" y1="372.4" x2="446.43" y2="374.09999999999997" stroke="#231f20" stroke-width="0.9"/>
<line x1="447.51" y1="372.4" x2="447.51" y2="374.09999999999997" stroke="#231f20" stroke-width="0.9"/>
<line x1="448.45" y1="372.4" x2="448.45" y2="374.09999999999997" stroke="#231f20" stroke-width="0.9"/>
<line x1="449.3" y1="372.4" x2="449.3" y2="375.09999999999997" stroke="#231f20" stroke-width="0.9"/>
<line x1="454.87" y1="372.4" x2="454.87" y2="374.09999999999997" stroke="#231f20" stroke-width="0.9"/>
<line x1="458.13" y1="372.4" x2="458.13" y2="374.09999999999997" stroke="#231f20" stroke-width="0.9"/>
<line x1="460.44" y1="372.4" x2="460.44" y2="374.09999999999997" stroke="#231f20" stroke-width="0.9"/>
<line x1="462.23" y1="372.4" x2="462.23" y2="374.09999999999997" stroke="#231f20" stroke-width="0.9"/>
<line x1="463.7" y1="372.4" x2="463.7" y2="374.09999999999997" stroke="#231f20" stroke-width="0.9"/>
<line x1="464.93" y1="372.4" x2="464.93" y2="374.09999999999997" stroke="#231f20" stroke-width="0.9"/>
<line x1="466.01" y1="372.4" x2="466.01" y2="374.09999999999997" stroke="#231f20" stroke-width="0.9"/>
<line x1="466.95" y1="372.4" x2="466.95" y2="374.09999999999997" stroke="#231f20" stroke-width="0.9"/>
<line x1="467.8" y1="372.4" x2="467.8" y2="375.09999999999997" stroke="#231f20" stroke-width="0.9"/>
<line x1="473.37" y1="372.4" x2="473.37" y2="374.09999999999997" stroke="#231f20" stroke-width="0.9"/>
<line x1="476.63" y1="372.4" x2="476.63" y2="374.09999999999997" stroke="#231f20" stroke-width="0.9"/>
<line x1="478.94" y1="372.4" x2="478.94" y2="374.09999999999997" stroke="#231f20" stroke-width="0.9"/>
<line x1="480.73" y1="372.4" x2="480.73" y2="374.09999999999997" stroke="#231f20" stroke-width="0.9"/>
<line x1="482.2" y1="372.4" x2="482.2" y2="374.09999999999997" stroke="#231f20" stroke-width="0.9"/>
<line x1="483.43" y1="372.4" x2="483.43" y2="374.09999999999997" stroke="#231f20" stroke-width="0.9"/>
<line x1="484.51" y1="372.4" x2="484.51" y2="374.09999999999997" stroke="#231f20" stroke-width="0.9"/>
<line x1="485.45" y1="372.4" x2="485.45" y2="374.09999999999997" stroke="#231f20" stroke-width="0.9"/>
<line x1="486.3" y1="372.4" x2="486.3" y2="375.09999999999997" stroke="#231f20" stroke-width="0.9"/>
<line x1="491.87" y1="372.4" x2="491.87" y2="374.09999999999997" stroke="#231f20" stroke-width="0.9"/>
<line x1="495.13" y1="372.4" x2="495.13" y2="374.09999999999997" stroke="#231f20" stroke-width="0.9"/>
<line x1="497.44" y1="372.4" x2="497.44" y2="374.09999999999997" stroke="#231f20" stroke-width="0.9"/>
<line x1="499.23" y1="372.4" x2="499.23" y2="374.09999999999997" stroke="#231f20" stroke-width="0.9"/>
<line x1="500.7" y1="372.4" x2="500.7" y2="374.09999999999997" stroke="#231f20" stroke-width="0.9"/>
<line x1="501.93" y1="372.4" x2="501.93" y2="374.09999999999997" stroke="#231f20" stroke-width="0.9"/>
<line x1="503.01" y1="372.4" x2="503.01" y2="374.09999999999997" stroke="#231f20" stroke-width="0.9"/>
<line x1="503.95" y1="372.4" x2="503.95" y2="374.09999999999997" stroke="#231f20" stroke-width="0.9"/>
<line x1="504.8" y1="372.4" x2="504.8" y2="375.09999999999997" stroke="#231f20" stroke-width="0.9"/>
<line x1="510.37" y1="372.4" x2="510.37" y2="374.09999999999997" stroke="#231f20" stroke-width="0.9"/>
<line x1="409.90000000000003" y1="372.4" x2="412.3" y2="372.4" stroke="#231f20" stroke-width="0.8"/>
<line x1="410.8" y1="367.65" x2="412.3" y2="367.65" stroke="#231f20" stroke-width="0.8"/>
<line x1="410.8" y1="362.9" x2="412.3" y2="362.9" stroke="#231f20" stroke-width="0.8"/>
<line x1="410.8" y1="358.15" x2="412.3" y2="358.15" stroke="#231f20" stroke-width="0.8"/>
<line x1="409.90000000000003" y1="353.4" x2="412.3" y2="353.4" stroke="#231f20" stroke-width="0.8"/>
<line x1="410.8" y1="348.65" x2="412.3" y2="348.65" stroke="#231f20" stroke-width="0.8"/>
<line x1="410.8" y1="343.9" x2="412.3" y2="343.9" stroke="#231f20" stroke-width="0.8"/>
<line x1="410.8" y1="339.15" x2="412.3" y2="339.15" stroke="#231f20" stroke-width="0.8"/>
<line x1="409.90000000000003" y1="334.4" x2="412.3" y2="334.4" stroke="#231f20" stroke-width="0.8"/>
<line x1="410.8" y1="329.65" x2="412.3" y2="329.65" stroke="#231f20" stroke-width="0.8"/>
<line x1="410.8" y1="324.9" x2="412.3" y2="324.9" stroke="#231f20" stroke-width="0.8"/>
<line x1="410.8" y1="320.15" x2="412.3" y2="320.15" stroke="#231f20" stroke-width="0.8"/>
<line x1="409.90000000000003" y1="315.4" x2="412.3" y2="315.4" stroke="#231f20" stroke-width="0.8"/>
<line x1="410.8" y1="310.65" x2="412.3" y2="310.65" stroke="#231f20" stroke-width="0.8"/>
<line x1="410.8" y1="305.9" x2="412.3" y2="305.9" stroke="#231f20" stroke-width="0.8"/>
<line x1="410.8" y1="301.15" x2="412.3" y2="301.15" stroke="#231f20" stroke-width="0.8"/>
<line x1="409.90000000000003" y1="296.4" x2="412.3" y2="296.4" stroke="#231f20" stroke-width="0.8"/>
<line x1="410.8" y1="291.65" x2="412.3" y2="291.65" stroke="#231f20" stroke-width="0.8"/>
<line x1="410.8" y1="286.9" x2="412.3" y2="286.9" stroke="#231f20" stroke-width="0.8"/>
<line x1="410.8" y1="282.15" x2="412.3" y2="282.15" stroke="#231f20" stroke-width="0.8"/>
<line x1="409.90000000000003" y1="277.4" x2="412.3" y2="277.4" stroke="#231f20" stroke-width="0.8"/>
<line x1="410.8" y1="272.65" x2="412.3" y2="272.65" stroke="#231f20" stroke-width="0.8"/>
<text x="412.80" y="385.0" font-size="7.6" text-anchor="middle" fill="#231f20" color="#231f20">10<tspan font-size="5.0" dx="0.5" dy="-3.5">0</tspan></text>
<text x="431.30" y="385.0" font-size="7.6" text-anchor="middle" fill="#231f20" color="#231f20">10<tspan font-size="5.0" dx="0.5" dy="-3.5">1</tspan></text>
<text x="449.80" y="385.0" font-size="7.6" text-anchor="middle" fill="#231f20" color="#231f20">10<tspan font-size="5.0" dx="0.5" dy="-3.5">2</tspan></text>
<text x="468.30" y="385.0" font-size="7.6" text-anchor="middle" fill="#231f20" color="#231f20">10<tspan font-size="5.0" dx="0.5" dy="-3.5">3</tspan></text>
<text x="486.80" y="385.0" font-size="7.6" text-anchor="middle" fill="#231f20" color="#231f20">10<tspan font-size="5.0" dx="0.5" dy="-3.5">4</tspan></text>
<text x="505.30" y="385.0" font-size="7.6" text-anchor="middle" fill="#231f20" color="#231f20">10<tspan font-size="5.0" dx="0.5" dy="-3.5">5</tspan></text>
<text x="463.1" y="399.0" font-size="9.3" text-anchor="middle" textLength="34.6" lengthAdjust="spacingAndGlyphs" fill="#231f20" color="#231f20">&#945;-His-FITC</text>
<text x="288.9" y="323.2" font-size="9.0" text-anchor="middle" textLength="71.6" lengthAdjust="spacingAndGlyphs" transform="rotate(-90 288.9 323.2)" fill="#231f20" color="#231f20">Normalized to mode</text>
<rect x="344.59999999999997" y="408.0" width="8.0" height="8.0" fill="#e8921a" stroke="#b86f10" stroke-width="0.6"/>
<text x="356.4" y="414.5" font-size="7.7" textLength="52.0" lengthAdjust="spacingAndGlyphs" fill="#231f20" color="#231f20">CD55-Fc-beads</text>
<rect x="419.0" y="408.0" width="8.0" height="8.0" fill="#2b4a8c" stroke="#1a2d5c" stroke-width="0.6"/>
<text x="430.8" y="414.5" font-size="7.7" textLength="37.0" lengthAdjust="spacingAndGlyphs" fill="#231f20" color="#231f20">No protein</text>
<text x="137.7" y="455.6" font-size="9.3" text-anchor="middle" textLength="47.2" lengthAdjust="spacingAndGlyphs" fill="#231f20" color="#231f20">RII-175-His</text>
<path d="M101.50,558.80 L104.30,537.21 L106.30,508.19 L108.20,479.27 L109.20,472.55 L110.70,469.23 L112.00,475.46 L114.00,498.65 L116.80,510.20 L119.70,519.84 L122.50,523.25 L125.50,525.66 L128.40,529.48 L131.30,541.13 L135.10,550.77 L140.00,556.99 L145.00,558.80" fill="none" stroke="#2b4480" stroke-width="1.4" stroke-linejoin="round"/>
<path d="M108.00,558.80 L111.00,556.89 L114.90,537.31 L116.80,514.02 L117.80,488.91 L118.80,471.54 L119.70,467.73 L121.70,475.46 L123.60,490.92 L125.50,502.47 L127.40,517.93 L129.30,533.30 L132.20,544.94 L136.00,552.67 L140.00,557.39 L146.00,558.80" fill="none" stroke="#4f5870" stroke-width="1.4" stroke-linejoin="round"/>
<path d="M108.00,558.80 L110.10,557.90 L114.00,541.13 L116.80,523.76 L119.70,498.65 L121.70,485.10 L123.60,475.46 L124.50,479.27 L126.00,468.73 L127.40,466.72 L128.40,479.27 L130.30,481.28 L132.20,492.83 L134.20,498.65 L136.00,517.93 L138.40,537.31 L140.90,548.86 L143.80,555.59 L149.50,557.60 L160.00,558.00 L165.00,557.60 L172.00,558.20 L185.60,558.80" fill="none" stroke="#b0103c" stroke-width="1.4" stroke-linejoin="round"/>
<rect x="89.9" y="461.5" width="96.40" height="97.60" fill="none" stroke="#161314" stroke-width="1.2"/>
<line x1="89.9" y1="559.1" x2="89.9" y2="561.8000000000001" stroke="#231f20" stroke-width="0.9"/>
<line x1="97.15" y1="559.1" x2="97.15" y2="560.8000000000001" stroke="#231f20" stroke-width="0.9"/>
<line x1="101.4" y1="559.1" x2="101.4" y2="560.8000000000001" stroke="#231f20" stroke-width="0.9"/>
<line x1="104.41" y1="559.1" x2="104.41" y2="560.8000000000001" stroke="#231f20" stroke-width="0.9"/>
<line x1="106.75" y1="559.1" x2="106.75" y2="560.8000000000001" stroke="#231f20" stroke-width="0.9"/>
<line x1="108.65" y1="559.1" x2="108.65" y2="560.8000000000001" stroke="#231f20" stroke-width="0.9"/>
<line x1="110.27" y1="559.1" x2="110.27" y2="560.8000000000001" stroke="#231f20" stroke-width="0.9"/>
<line x1="111.66" y1="559.1" x2="111.66" y2="560.8000000000001" stroke="#231f20" stroke-width="0.9"/>
<line x1="112.9" y1="559.1" x2="112.9" y2="560.8000000000001" stroke="#231f20" stroke-width="0.9"/>
<line x1="114.0" y1="559.1" x2="114.0" y2="561.8000000000001" stroke="#231f20" stroke-width="0.9"/>
<line x1="121.25" y1="559.1" x2="121.25" y2="560.8000000000001" stroke="#231f20" stroke-width="0.9"/>
<line x1="125.5" y1="559.1" x2="125.5" y2="560.8000000000001" stroke="#231f20" stroke-width="0.9"/>
<line x1="128.51" y1="559.1" x2="128.51" y2="560.8000000000001" stroke="#231f20" stroke-width="0.9"/>
<line x1="130.85" y1="559.1" x2="130.85" y2="560.8000000000001" stroke="#231f20" stroke-width="0.9"/>
<line x1="132.75" y1="559.1" x2="132.75" y2="560.8000000000001" stroke="#231f20" stroke-width="0.9"/>
<line x1="134.37" y1="559.1" x2="134.37" y2="560.8000000000001" stroke="#231f20" stroke-width="0.9"/>
<line x1="135.76" y1="559.1" x2="135.76" y2="560.8000000000001" stroke="#231f20" stroke-width="0.9"/>
<line x1="137.0" y1="559.1" x2="137.0" y2="560.8000000000001" stroke="#231f20" stroke-width="0.9"/>
<line x1="138.1" y1="559.1" x2="138.1" y2="561.8000000000001" stroke="#231f20" stroke-width="0.9"/>
<line x1="145.35" y1="559.1" x2="145.35" y2="560.8000000000001" stroke="#231f20" stroke-width="0.9"/>
<line x1="149.6" y1="559.1" x2="149.6" y2="560.8000000000001" stroke="#231f20" stroke-width="0.9"/>
<line x1="152.61" y1="559.1" x2="152.61" y2="560.8000000000001" stroke="#231f20" stroke-width="0.9"/>
<line x1="154.95" y1="559.1" x2="154.95" y2="560.8000000000001" stroke="#231f20" stroke-width="0.9"/>
<line x1="156.85" y1="559.1" x2="156.85" y2="560.8000000000001" stroke="#231f20" stroke-width="0.9"/>
<line x1="158.47" y1="559.1" x2="158.47" y2="560.8000000000001" stroke="#231f20" stroke-width="0.9"/>
<line x1="159.86" y1="559.1" x2="159.86" y2="560.8000000000001" stroke="#231f20" stroke-width="0.9"/>
<line x1="161.1" y1="559.1" x2="161.1" y2="560.8000000000001" stroke="#231f20" stroke-width="0.9"/>
<line x1="162.2" y1="559.1" x2="162.2" y2="561.8000000000001" stroke="#231f20" stroke-width="0.9"/>
<line x1="169.45" y1="559.1" x2="169.45" y2="560.8000000000001" stroke="#231f20" stroke-width="0.9"/>
<line x1="173.7" y1="559.1" x2="173.7" y2="560.8000000000001" stroke="#231f20" stroke-width="0.9"/>
<line x1="176.71" y1="559.1" x2="176.71" y2="560.8000000000001" stroke="#231f20" stroke-width="0.9"/>
<line x1="179.05" y1="559.1" x2="179.05" y2="560.8000000000001" stroke="#231f20" stroke-width="0.9"/>
<line x1="180.95" y1="559.1" x2="180.95" y2="560.8000000000001" stroke="#231f20" stroke-width="0.9"/>
<line x1="182.57" y1="559.1" x2="182.57" y2="560.8000000000001" stroke="#231f20" stroke-width="0.9"/>
<line x1="183.96" y1="559.1" x2="183.96" y2="560.8000000000001" stroke="#231f20" stroke-width="0.9"/>
<line x1="185.2" y1="559.1" x2="185.2" y2="560.8000000000001" stroke="#231f20" stroke-width="0.9"/>
<line x1="186.3" y1="559.1" x2="186.3" y2="561.8000000000001" stroke="#231f20" stroke-width="0.9"/>
<line x1="87.5" y1="559.1" x2="89.9" y2="559.1" stroke="#231f20" stroke-width="0.8"/>
<line x1="88.4" y1="554.25" x2="89.9" y2="554.25" stroke="#231f20" stroke-width="0.8"/>
<line x1="88.4" y1="549.4" x2="89.9" y2="549.4" stroke="#231f20" stroke-width="0.8"/>
<line x1="88.4" y1="544.55" x2="89.9" y2="544.55" stroke="#231f20" stroke-width="0.8"/>
<line x1="87.5" y1="539.7" x2="89.9" y2="539.7" stroke="#231f20" stroke-width="0.8"/>
<line x1="88.4" y1="534.85" x2="89.9" y2="534.85" stroke="#231f20" stroke-width="0.8"/>
<line x1="88.4" y1="530.0" x2="89.9" y2="530.0" stroke="#231f20" stroke-width="0.8"/>
<line x1="88.4" y1="525.15" x2="89.9" y2="525.15" stroke="#231f20" stroke-width="0.8"/>
<line x1="87.5" y1="520.3" x2="89.9" y2="520.3" stroke="#231f20" stroke-width="0.8"/>
<line x1="88.4" y1="515.45" x2="89.9" y2="515.45" stroke="#231f20" stroke-width="0.8"/>
<line x1="88.4" y1="510.6" x2="89.9" y2="510.6" stroke="#231f20" stroke-width="0.8"/>
<line x1="88.4" y1="505.75" x2="89.9" y2="505.75" stroke="#231f20" stroke-width="0.8"/>
<line x1="87.5" y1="500.9" x2="89.9" y2="500.9" stroke="#231f20" stroke-width="0.8"/>
<line x1="88.4" y1="496.05" x2="89.9" y2="496.05" stroke="#231f20" stroke-width="0.8"/>
<line x1="88.4" y1="491.2" x2="89.9" y2="491.2" stroke="#231f20" stroke-width="0.8"/>
<line x1="88.4" y1="486.35" x2="89.9" y2="486.35" stroke="#231f20" stroke-width="0.8"/>
<line x1="87.5" y1="481.5" x2="89.9" y2="481.5" stroke="#231f20" stroke-width="0.8"/>
<line x1="88.4" y1="476.65" x2="89.9" y2="476.65" stroke="#231f20" stroke-width="0.8"/>
<line x1="88.4" y1="471.8" x2="89.9" y2="471.8" stroke="#231f20" stroke-width="0.8"/>
<line x1="88.4" y1="466.95" x2="89.9" y2="466.95" stroke="#231f20" stroke-width="0.8"/>
<line x1="87.5" y1="462.1" x2="89.9" y2="462.1" stroke="#231f20" stroke-width="0.8"/>
<text x="90.40" y="572.2" font-size="8.0" text-anchor="middle" fill="#231f20" color="#231f20">10<tspan font-size="5.3" dx="0.5" dy="-3.5">&#8722;1</tspan></text>
<text x="114.50" y="572.2" font-size="8.0" text-anchor="middle" fill="#231f20" color="#231f20">10<tspan font-size="5.3" dx="0.5" dy="-3.5">0</tspan></text>
<text x="138.60" y="572.2" font-size="8.0" text-anchor="middle" fill="#231f20" color="#231f20">10<tspan font-size="5.3" dx="0.5" dy="-3.5">1</tspan></text>
<text x="162.70" y="572.2" font-size="8.0" text-anchor="middle" fill="#231f20" color="#231f20">10<tspan font-size="5.3" dx="0.5" dy="-3.5">2</tspan></text>
<text x="186.80" y="572.2" font-size="8.0" text-anchor="middle" fill="#231f20" color="#231f20">10<tspan font-size="5.3" dx="0.5" dy="-3.5">3</tspan></text>
<text x="138.5" y="586.2" font-size="9.3" text-anchor="middle" textLength="34.4" lengthAdjust="spacingAndGlyphs" fill="#231f20" color="#231f20">&#945;-His-FITC</text>
<text x="257.3" y="455.6" font-size="9.3" text-anchor="middle" textLength="47.2" lengthAdjust="spacingAndGlyphs" fill="#231f20" color="#231f20">RII-140-His</text>
<path d="M218.00,558.80 L220.50,557.90 L223.40,537.31 L225.30,508.19 L226.70,479.27 L227.20,473.55 L228.80,470.64 L230.10,466.72 L231.10,475.46 L232.00,488.91 L234.90,504.38 L238.80,517.93 L242.60,523.76 L246.50,527.57 L250.30,537.31 L255.10,548.86 L260.00,557.19 L264.00,558.80" fill="none" stroke="#2b4480" stroke-width="1.4" stroke-linejoin="round"/>
<path d="M231.00,558.80 L233.00,558.40 L235.90,541.13 L237.80,521.75 L239.70,494.74 L240.70,488.91 L242.20,485.10 L243.60,478.37 L244.90,483.09 L246.50,488.91 L248.40,508.19 L250.70,521.75 L253.20,541.13 L257.00,552.67 L261.80,558.40 L264.00,558.80" fill="none" stroke="#4f5870" stroke-width="1.4" stroke-linejoin="round"/>
<path d="M232.00,558.80 L234.00,558.40 L238.80,543.04 L241.70,521.75 L244.50,494.74 L246.50,481.28 L248.40,470.64 L249.30,468.73 L251.30,471.54 L252.60,468.73 L254.20,475.46 L256.10,490.92 L258.40,508.19 L260.90,527.57 L263.80,546.85 L266.70,556.59 L269.50,558.40 L272.00,558.80" fill="none" stroke="#b0103c" stroke-width="1.4" stroke-linejoin="round"/>
<rect x="209.2" y="461.5" width="96.40" height="97.60" fill="none" stroke="#161314" stroke-width="1.2"/>
<line x1="209.2" y1="559.1" x2="209.2" y2="561.8000000000001" stroke="#231f20" stroke-width="0.9"/>
<line x1="216.45" y1="559.1" x2="216.45" y2="560.8000000000001" stroke="#231f20" stroke-width="0.9"/>
<line x1="220.7" y1="559.1" x2="220.7" y2="560.8000000000001" stroke="#231f20" stroke-width="0.9"/>
<line x1="223.71" y1="559.1" x2="223.71" y2="560.8000000000001" stroke="#231f20" stroke-width="0.9"/>
<line x1="226.05" y1="559.1" x2="226.05" y2="560.8000000000001" stroke="#231f20" stroke-width="0.9"/>
<line x1="227.95" y1="559.1" x2="227.95" y2="560.8000000000001" stroke="#231f20" stroke-width="0.9"/>
<line x1="229.57" y1="559.1" x2="229.57" y2="560.8000000000001" stroke="#231f20" stroke-width="0.9"/>
<line x1="230.96" y1="559.1" x2="230.96" y2="560.8000000000001" stroke="#231f20" stroke-width="0.9"/>
<line x1="232.2" y1="559.1" x2="232.2" y2="560.8000000000001" stroke="#231f20" stroke-width="0.9"/>
<line x1="233.3" y1="559.1" x2="233.3" y2="561.8000000000001" stroke="#231f20" stroke-width="0.9"/>
<line x1="240.55" y1="559.1" x2="240.55" y2="560.8000000000001" stroke="#231f20" stroke-width="0.9"/>
<line x1="244.8" y1="559.1" x2="244.8" y2="560.8000000000001" stroke="#231f20" stroke-width="0.9"/>
<line x1="247.81" y1="559.1" x2="247.81" y2="560.8000000000001" stroke="#231f20" stroke-width="0.9"/>
<line x1="250.15" y1="559.1" x2="250.15" y2="560.8000000000001" stroke="#231f20" stroke-width="0.9"/>
<line x1="252.05" y1="559.1" x2="252.05" y2="560.8000000000001" stroke="#231f20" stroke-width="0.9"/>
<line x1="253.67" y1="559.1" x2="253.67" y2="560.8000000000001" stroke="#231f20" stroke-width="0.9"/>
<line x1="255.06" y1="559.1" x2="255.06" y2="560.8000000000001" stroke="#231f20" stroke-width="0.9"/>
<line x1="256.3" y1="559.1" x2="256.3" y2="560.8000000000001" stroke="#231f20" stroke-width="0.9"/>
<line x1="257.4" y1="559.1" x2="257.4" y2="561.8000000000001" stroke="#231f20" stroke-width="0.9"/>
<line x1="264.65" y1="559.1" x2="264.65" y2="560.8000000000001" stroke="#231f20" stroke-width="0.9"/>
<line x1="268.9" y1="559.1" x2="268.9" y2="560.8000000000001" stroke="#231f20" stroke-width="0.9"/>
<line x1="271.91" y1="559.1" x2="271.91" y2="560.8000000000001" stroke="#231f20" stroke-width="0.9"/>
<line x1="274.25" y1="559.1" x2="274.25" y2="560.8000000000001" stroke="#231f20" stroke-width="0.9"/>
<line x1="276.15" y1="559.1" x2="276.15" y2="560.8000000000001" stroke="#231f20" stroke-width="0.9"/>
<line x1="277.77" y1="559.1" x2="277.77" y2="560.8000000000001" stroke="#231f20" stroke-width="0.9"/>
<line x1="279.16" y1="559.1" x2="279.16" y2="560.8000000000001" stroke="#231f20" stroke-width="0.9"/>
<line x1="280.4" y1="559.1" x2="280.4" y2="560.8000000000001" stroke="#231f20" stroke-width="0.9"/>
<line x1="281.5" y1="559.1" x2="281.5" y2="561.8000000000001" stroke="#231f20" stroke-width="0.9"/>
<line x1="288.75" y1="559.1" x2="288.75" y2="560.8000000000001" stroke="#231f20" stroke-width="0.9"/>
<line x1="293.0" y1="559.1" x2="293.0" y2="560.8000000000001" stroke="#231f20" stroke-width="0.9"/>
<line x1="296.01" y1="559.1" x2="296.01" y2="560.8000000000001" stroke="#231f20" stroke-width="0.9"/>
<line x1="298.35" y1="559.1" x2="298.35" y2="560.8000000000001" stroke="#231f20" stroke-width="0.9"/>
<line x1="300.25" y1="559.1" x2="300.25" y2="560.8000000000001" stroke="#231f20" stroke-width="0.9"/>
<line x1="301.87" y1="559.1" x2="301.87" y2="560.8000000000001" stroke="#231f20" stroke-width="0.9"/>
<line x1="303.26" y1="559.1" x2="303.26" y2="560.8000000000001" stroke="#231f20" stroke-width="0.9"/>
<line x1="304.5" y1="559.1" x2="304.5" y2="560.8000000000001" stroke="#231f20" stroke-width="0.9"/>
<line x1="305.6" y1="559.1" x2="305.6" y2="561.8000000000001" stroke="#231f20" stroke-width="0.9"/>
<line x1="206.79999999999998" y1="559.1" x2="209.2" y2="559.1" stroke="#231f20" stroke-width="0.8"/>
<line x1="207.7" y1="554.25" x2="209.2" y2="554.25" stroke="#231f20" stroke-width="0.8"/>
<line x1="207.7" y1="549.4" x2="209.2" y2="549.4" stroke="#231f20" stroke-width="0.8"/>
<line x1="207.7" y1="544.55" x2="209.2" y2="544.55" stroke="#231f20" stroke-width="0.8"/>
<line x1="206.79999999999998" y1="539.7" x2="209.2" y2="539.7" stroke="#231f20" stroke-width="0.8"/>
<line x1="207.7" y1="534.85" x2="209.2" y2="534.85" stroke="#231f20" stroke-width="0.8"/>
<line x1="207.7" y1="530.0" x2="209.2" y2="530.0" stroke="#231f20" stroke-width="0.8"/>
<line x1="207.7" y1="525.15" x2="209.2" y2="525.15" stroke="#231f20" stroke-width="0.8"/>
<line x1="206.79999999999998" y1="520.3" x2="209.2" y2="520.3" stroke="#231f20" stroke-width="0.8"/>
<line x1="207.7" y1="515.45" x2="209.2" y2="515.45" stroke="#231f20" stroke-width="0.8"/>
<line x1="207.7" y1="510.6" x2="209.2" y2="510.6" stroke="#231f20" stroke-width="0.8"/>
<line x1="207.7" y1="505.75" x2="209.2" y2="505.75" stroke="#231f20" stroke-width="0.8"/>
<line x1="206.79999999999998" y1="500.9" x2="209.2" y2="500.9" stroke="#231f20" stroke-width="0.8"/>
<line x1="207.7" y1="496.05" x2="209.2" y2="496.05" stroke="#231f20" stroke-width="0.8"/>
<line x1="207.7" y1="491.2" x2="209.2" y2="491.2" stroke="#231f20" stroke-width="0.8"/>
<line x1="207.7" y1="486.35" x2="209.2" y2="486.35" stroke="#231f20" stroke-width="0.8"/>
<line x1="206.79999999999998" y1="481.5" x2="209.2" y2="481.5" stroke="#231f20" stroke-width="0.8"/>
<line x1="207.7" y1="476.65" x2="209.2" y2="476.65" stroke="#231f20" stroke-width="0.8"/>
<line x1="207.7" y1="471.8" x2="209.2" y2="471.8" stroke="#231f20" stroke-width="0.8"/>
<line x1="207.7" y1="466.95" x2="209.2" y2="466.95" stroke="#231f20" stroke-width="0.8"/>
<line x1="206.79999999999998" y1="462.1" x2="209.2" y2="462.1" stroke="#231f20" stroke-width="0.8"/>
<text x="209.70" y="572.2" font-size="8.0" text-anchor="middle" fill="#231f20" color="#231f20">10<tspan font-size="5.3" dx="0.5" dy="-3.5">&#8722;1</tspan></text>
<text x="233.80" y="572.2" font-size="8.0" text-anchor="middle" fill="#231f20" color="#231f20">10<tspan font-size="5.3" dx="0.5" dy="-3.5">0</tspan></text>
<text x="257.90" y="572.2" font-size="8.0" text-anchor="middle" fill="#231f20" color="#231f20">10<tspan font-size="5.3" dx="0.5" dy="-3.5">1</tspan></text>
<text x="282.00" y="572.2" font-size="8.0" text-anchor="middle" fill="#231f20" color="#231f20">10<tspan font-size="5.3" dx="0.5" dy="-3.5">2</tspan></text>
<text x="306.10" y="572.2" font-size="8.0" text-anchor="middle" fill="#231f20" color="#231f20">10<tspan font-size="5.3" dx="0.5" dy="-3.5">3</tspan></text>
<text x="258.1" y="586.2" font-size="9.3" text-anchor="middle" textLength="34.4" lengthAdjust="spacingAndGlyphs" fill="#231f20" color="#231f20">&#945;-His-FITC</text>
<text x="82.6" y="511.2" font-size="9.0" text-anchor="middle" textLength="71.6" lengthAdjust="spacingAndGlyphs" transform="rotate(-90 82.6 511.2)" fill="#231f20" color="#231f20">Normalized to mode</text>
<rect x="320.4" y="487.8" width="8.4" height="8.4" fill="#2c4a8c" stroke="#1a2d5c" stroke-width="0.6"/>
<text x="332.7" y="494.6" font-size="7.9" textLength="151.6" lengthAdjust="spacingAndGlyphs" fill="#231f20" color="#231f20">CD44-Fc-beads, + BRIC 222, no EBA protein</text>
<rect x="320.4" y="505.90000000000003" width="8.4" height="8.4" fill="#b0002c" stroke="#80001f" stroke-width="0.6"/>
<text x="332.7" y="512.7" font-size="7.9" textLength="147.0" lengthAdjust="spacingAndGlyphs" fill="#231f20" color="#231f20">CD44-Fc-beads, + BRIC 170, + EBA protein</text>
<rect x="320.4" y="524.0999999999999" width="8.4" height="8.4" fill="#4a5468" stroke="#323a4a" stroke-width="0.6"/>
<text x="332.7" y="530.9" font-size="7.9" textLength="147.0" lengthAdjust="spacingAndGlyphs" fill="#231f20" color="#231f20">CD44-Fc-beads, + BRIC 222, + EBA protein</text>
</svg>
<div class="frame"></div>
</body></html>
